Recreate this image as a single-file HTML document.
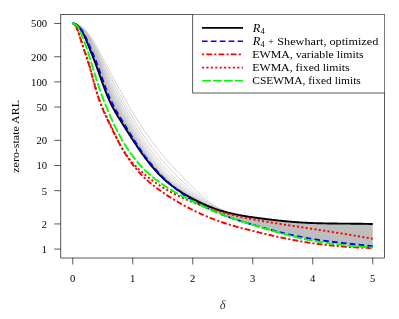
<!DOCTYPE html>
<html><head><meta charset="utf-8"><title>ARL</title>
<style>
html,body{margin:0;padding:0;background:#fff;}
svg{display:block;will-change:transform;}
text{font-family:"Liberation Serif",serif;fill:#000;}
</style></head><body>
<svg width="399" height="319" viewBox="0 0 399 319">
<rect x="0" y="0" width="399" height="319" fill="#fff"/>
<path d="M182.25,192.80 L183.75,193.70 L185.25,194.59 L186.75,195.45 L188.25,196.31 L189.75,197.14 L191.25,197.96 L192.75,198.77 L194.25,199.56 L195.75,200.33 L197.25,201.09 L198.75,201.83 L200.25,202.56 L201.75,203.26 L203.25,203.96 L204.75,204.63 L206.25,205.28 L207.75,205.92 L209.25,206.54 L210.75,207.14 L212.25,207.72 L213.75,208.28 L215.25,208.83 L216.75,209.35 L218.25,209.85 L219.75,210.33 L221.25,210.80 L222.75,211.24 L224.25,211.67 L225.75,212.07 L227.25,212.47 L228.75,212.84 L230.25,213.20 L231.75,213.55 L233.25,213.88 L234.75,214.20 L236.25,214.51 L237.75,214.80 L239.25,215.09 L240.75,215.36 L242.25,215.62 L243.75,215.88 L245.25,216.13 L246.75,216.37 L248.25,216.60 L249.75,216.83 L251.25,217.05 L252.75,217.27 L254.25,217.48 L255.75,217.69 L257.25,217.90 L258.75,218.11 L260.25,218.31 L261.75,218.51 L263.25,218.71 L264.75,218.90 L266.25,219.09 L267.75,219.28 L269.25,219.47 L270.75,219.65 L272.25,219.82 L273.75,220.00 L275.25,220.17 L276.75,220.34 L278.25,220.50 L279.75,220.66 L281.25,220.81 L282.75,220.96 L284.25,221.11 L285.75,221.25 L287.25,221.39 L288.75,221.53 L290.25,221.66 L291.75,221.78 L293.25,221.91 L294.75,222.02 L296.25,222.14 L297.75,222.24 L299.25,222.35 L300.75,222.44 L302.25,222.54 L303.75,222.62 L305.25,222.71 L306.75,222.79 L308.25,222.86 L309.75,222.93 L311.25,222.99 L312.75,223.05 L314.25,223.10 L315.75,223.16 L317.25,223.20 L318.75,223.25 L320.25,223.29 L321.75,223.32 L323.25,223.36 L324.75,223.39 L326.25,223.42 L327.75,223.45 L329.25,223.47 L330.75,223.49 L332.25,223.51 L333.75,223.53 L335.25,223.55 L336.75,223.56 L338.25,223.58 L339.75,223.59 L341.25,223.60 L342.75,223.61 L344.25,223.63 L345.75,223.64 L347.25,223.65 L348.75,223.66 L350.25,223.67 L351.75,223.69 L353.25,223.70 L354.75,223.71 L356.25,223.73 L357.75,223.75 L359.25,223.77 L360.75,223.79 L362.25,223.81 L363.75,223.83 L365.25,223.86 L366.75,223.89 L368.25,223.92 L369.75,223.96 L371.25,223.99 L372.75,224.03 L372.75,248.11 L371.25,247.93 L369.75,247.75 L368.25,247.55 L366.75,247.36 L365.25,247.16 L363.75,246.98 L362.25,246.79 L360.75,246.60 L359.25,246.41 L357.75,246.23 L356.25,246.05 L354.75,245.86 L353.25,245.68 L351.75,245.50 L350.25,245.32 L348.75,245.13 L347.25,244.95 L345.75,244.76 L344.25,244.58 L342.75,244.39 L341.25,244.20 L339.75,244.01 L338.25,243.82 L336.75,243.63 L335.25,243.43 L333.75,243.23 L332.25,243.03 L330.75,242.82 L329.25,242.62 L327.75,242.40 L326.25,242.19 L324.75,241.97 L323.25,241.74 L321.75,241.52 L320.25,241.28 L318.75,241.05 L317.25,240.80 L315.75,240.55 L314.25,240.30 L312.75,240.04 L311.25,239.77 L309.75,239.50 L308.25,239.22 L306.75,238.94 L305.25,238.65 L303.75,238.35 L302.25,238.04 L300.75,237.73 L299.25,237.41 L297.75,237.08 L296.25,236.75 L294.75,236.41 L293.25,236.06 L291.75,235.71 L290.25,235.35 L288.75,234.99 L287.25,234.62 L285.75,234.25 L284.25,233.86 L282.75,233.48 L281.25,233.09 L279.75,232.70 L278.25,232.32 L276.75,231.93 L275.25,231.55 L273.75,231.15 L272.25,230.76 L270.75,230.35 L269.25,229.95 L267.75,229.54 L266.25,229.13 L264.75,228.71 L263.25,228.29 L261.75,227.87 L260.25,227.44 L258.75,227.01 L257.25,226.58 L255.75,226.15 L254.25,225.71 L252.75,225.27 L251.25,224.82 L249.75,224.38 L248.25,223.93 L246.75,223.47 L245.25,223.01 L243.75,222.55 L242.25,222.08 L240.75,221.60 L239.25,221.12 L237.75,220.63 L236.25,220.13 L234.75,219.63 L233.25,219.12 L231.75,218.60 L230.25,218.07 L228.75,217.53 L227.25,216.99 L225.75,216.43 L224.25,215.87 L222.75,215.29 L221.25,214.71 L219.75,214.11 L218.25,213.50 L216.75,212.88 L215.25,212.24 L213.75,211.60 L212.25,210.94 L210.75,210.26 L209.25,209.57 L207.75,208.87 L206.25,208.15 L204.75,207.42 L203.25,206.66 L201.75,205.89 L200.25,205.11 L198.75,204.30 L197.25,203.47 L195.75,202.63 L194.25,201.77 L192.75,200.88 L191.25,199.98 L189.75,199.05 L188.25,198.10 L186.75,197.13 L185.25,196.13 L183.75,195.11 L182.25,194.07Z" fill="#bebebe" stroke="none"/>
<path d="M72.8,23.5L74.2,23.5L75.8,23.8L77.2,24.3L78.8,24.9L80.2,25.7L81.8,26.7L83.2,27.9L84.8,29.3L86.2,31.0L87.8,32.8L89.2,34.8L90.8,37.0L92.2,39.3L93.8,41.7L95.2,44.3L96.8,46.9L98.2,49.6L99.8,52.4L101.2,55.1L102.8,57.9L104.2,60.7L105.8,63.5L107.2,66.3L108.8,69.1L110.2,72.0L111.8,74.8L113.2,77.6L114.8,80.4L116.2,83.2L117.8,86.0L119.2,88.7L120.8,91.5L122.2,94.2L123.8,96.9L125.2,99.6L126.8,102.2L128.2,104.8L129.8,107.4L131.2,110.0L132.8,112.5L134.2,115.0L135.8,117.5L137.2,119.9L138.8,122.3L140.2,124.6L141.8,126.9L143.2,129.2L144.8,131.4L146.2,133.6L147.8,135.8L149.2,137.9L150.8,139.9L152.2,142.0L153.8,144.0L155.2,145.9L156.8,147.8L158.2,149.7L159.8,151.6L161.2,153.4L162.8,155.2L164.2,157.0L165.8,158.8L167.2,160.5L168.8,162.2L170.2,163.9L171.8,165.5L173.2,167.2L174.8,168.8L176.2,170.4L177.8,172.0L179.2,173.6L180.8,175.1L182.2,176.7L183.8,178.2L185.2,179.8L186.8,181.3L188.2,182.8L189.8,184.3L191.2,185.8L192.8,187.3L194.2,188.7L195.8,190.2L197.2,191.6L198.8,193.0L200.2,194.3L201.8,195.7L203.2,197.0L204.8,198.2L206.2,199.5L207.8,200.7L209.2,201.8L210.8,202.9L212.2,204.0L213.8,205.0L215.2,205.9L216.8,206.8L218.2,207.7L219.8,208.5L221.2,209.2L222.8,209.9L224.2,210.5L225.8,211.1" fill="none" stroke="#bebebe" stroke-width="0.7"/>
<path d="M72.8,23.5L74.2,23.5L75.8,23.8L77.2,24.3L78.8,25.0L80.2,25.9L81.8,27.0L83.2,28.3L84.8,29.8L86.2,31.6L87.8,33.6L89.2,35.7L90.8,38.1L92.2,40.6L93.8,43.2L95.2,45.9L96.8,48.7L98.2,51.7L99.8,54.6L101.2,57.7L102.8,60.7L104.2,63.8L105.8,66.8L107.2,69.9L108.8,72.9L110.2,75.9L111.8,78.9L113.2,81.9L114.8,84.8L116.2,87.7L117.8,90.5L119.2,93.3L120.8,96.1L122.2,98.9L123.8,101.6L125.2,104.4L126.8,107.1L128.2,109.8L129.8,112.4L131.2,115.1L132.8,117.7L134.2,120.2L135.8,122.8L137.2,125.3L138.8,127.7L140.2,130.1L141.8,132.5L143.2,134.8L144.8,137.1L146.2,139.3L147.8,141.4L149.2,143.6L150.8,145.7L152.2,147.7L153.8,149.7L155.2,151.7L156.8,153.6L158.2,155.5L159.8,157.3L161.2,159.2L162.8,161.0L164.2,162.7L165.8,164.4L167.2,166.1L168.8,167.7L170.2,169.3L171.8,170.9L173.2,172.5L174.8,174.0L176.2,175.5L177.8,177.0L179.2,178.4L180.8,179.8L182.2,181.2L183.8,182.6L185.2,184.0L186.8,185.4L188.2,186.7L189.8,188.0L191.2,189.4L192.8,190.7L194.2,191.9L195.8,193.2L197.2,194.4L198.8,195.6L200.2,196.8L201.8,198.0L203.2,199.1L204.8,200.2L206.2,201.2L207.8,202.3L209.2,203.3L210.8,204.2L212.2,205.1L213.8,206.0L215.2,206.8L216.8,207.6L218.2,208.4L219.8,209.1L221.2,209.7L222.8,210.3L224.2,210.9L225.8,211.4" fill="none" stroke="#bebebe" stroke-width="0.7"/>
<path d="M72.8,23.5L74.2,23.6L75.8,23.9L77.2,24.4L78.8,25.2L80.2,26.1L81.8,27.2L83.2,28.6L84.8,30.3L86.2,32.2L87.8,34.3L89.2,36.6L90.8,39.1L92.2,41.7L93.8,44.5L95.2,47.4L96.8,50.4L98.2,53.5L99.8,56.6L101.2,59.9L102.8,63.1L104.2,66.4L105.8,69.7L107.2,73.0L108.8,76.2L110.2,79.3L111.8,82.4L113.2,85.5L114.8,88.5L116.2,91.4L117.8,94.3L119.2,97.1L120.8,100.0L122.2,102.8L123.8,105.5L125.2,108.3L126.8,111.0L128.2,113.8L129.8,116.5L131.2,119.1L132.8,121.8L134.2,124.4L135.8,127.0L137.2,129.5L138.8,132.0L140.2,134.4L141.8,136.8L143.2,139.1L144.8,141.4L146.2,143.6L147.8,145.8L149.2,147.9L150.8,150.0L152.2,152.0L153.8,154.0L155.2,156.0L156.8,157.9L158.2,159.8L159.8,161.6L161.2,163.4L162.8,165.2L164.2,166.9L165.8,168.6L167.2,170.2L168.8,171.8L170.2,173.3L171.8,174.9L173.2,176.4L174.8,177.8L176.2,179.2L177.8,180.6L179.2,181.9L180.8,183.2L182.2,184.5L183.8,185.8L185.2,187.0L186.8,188.3L188.2,189.5L189.8,190.7L191.2,191.9L192.8,193.0L194.2,194.2L195.8,195.3L197.2,196.4L198.8,197.5L200.2,198.5L201.8,199.6L203.2,200.6L204.8,201.5L206.2,202.5L207.8,203.4L209.2,204.3L210.8,205.1L212.2,205.9L213.8,206.7L215.2,207.5L216.8,208.2L218.2,208.8L219.8,209.5L221.2,210.1L222.8,210.6L224.2,211.1L225.8,211.6" fill="none" stroke="#bebebe" stroke-width="0.7"/>
<path d="M72.8,23.5L74.2,23.6L75.8,23.9L77.2,24.5L78.8,25.3L80.2,26.3L81.8,27.5L83.2,29.0L84.8,30.7L86.2,32.7L87.8,35.0L89.2,37.4L90.8,40.0L92.2,42.8L93.8,45.6L95.2,48.7L96.8,51.8L98.2,55.0L99.8,58.4L101.2,61.8L102.8,65.3L104.2,68.8L105.8,72.2L107.2,75.6L108.8,79.0L110.2,82.2L111.8,85.4L113.2,88.5L114.8,91.6L116.2,94.5L117.8,97.4L119.2,100.3L120.8,103.1L122.2,105.9L123.8,108.7L125.2,111.5L126.8,114.3L128.2,117.0L129.8,119.7L131.2,122.4L132.8,125.1L134.2,127.7L135.8,130.3L137.2,132.8L138.8,135.3L140.2,137.8L141.8,140.2L143.2,142.5L144.8,144.7L146.2,146.9L147.8,149.1L149.2,151.2L150.8,153.3L152.2,155.3L153.8,157.3L155.2,159.2L156.8,161.1L158.2,163.0L159.8,164.8L161.2,166.6L162.8,168.3L164.2,170.0L165.8,171.6L167.2,173.2L168.8,174.8L170.2,176.3L171.8,177.7L173.2,179.2L174.8,180.6L176.2,181.9L177.8,183.2L179.2,184.4L180.8,185.6L182.2,186.8L183.8,188.0L185.2,189.2L186.8,190.3L188.2,191.4L189.8,192.5L191.2,193.6L192.8,194.7L194.2,195.8L195.8,196.8L197.2,197.8L198.8,198.8L200.2,199.7L201.8,200.7L203.2,201.6L204.8,202.5L206.2,203.3L207.8,204.2L209.2,205.0L210.8,205.7L212.2,206.5L213.8,207.2L215.2,207.9L216.8,208.5L218.2,209.2L219.8,209.7L221.2,210.3L222.8,210.8L224.2,211.3L225.8,211.8" fill="none" stroke="#bebebe" stroke-width="0.7"/>
<path d="M72.8,23.5L74.2,23.6L75.8,23.9L77.2,24.5L78.8,25.4L80.2,26.4L81.8,27.7L83.2,29.2L84.8,31.1L86.2,33.2L87.8,35.6L89.2,38.1L90.8,40.8L92.2,43.7L93.8,46.7L95.2,49.8L96.8,53.1L98.2,56.5L99.8,60.0L101.2,63.5L102.8,67.1L104.2,70.8L105.8,74.4L107.2,77.9L108.8,81.4L110.2,84.7L111.8,88.0L113.2,91.1L114.8,94.2L116.2,97.2L117.8,100.1L119.2,102.9L120.8,105.8L122.2,108.6L123.8,111.4L125.2,114.1L126.8,116.9L128.2,119.6L129.8,122.3L131.2,125.0L132.8,127.7L134.2,130.3L135.8,132.9L137.2,135.4L138.8,138.0L140.2,140.4L141.8,142.8L143.2,145.1L144.8,147.3L146.2,149.5L147.8,151.7L149.2,153.8L150.8,155.8L152.2,157.8L153.8,159.8L155.2,161.7L156.8,163.6L158.2,165.4L159.8,167.2L161.2,168.9L162.8,170.6L164.2,172.3L165.8,173.9L167.2,175.4L168.8,176.9L170.2,178.4L171.8,179.8L173.2,181.2L174.8,182.6L176.2,183.8L177.8,185.0L179.2,186.2L180.8,187.4L182.2,188.5L183.8,189.6L185.2,190.7L186.8,191.8L188.2,192.8L189.8,193.9L191.2,194.9L192.8,195.9L194.2,196.9L195.8,197.8L197.2,198.8L198.8,199.7L200.2,200.6L201.8,201.5L203.2,202.3L204.8,203.1L206.2,203.9L207.8,204.7L209.2,205.4L210.8,206.2L212.2,206.9L213.8,207.5L215.2,208.2L216.8,208.8L218.2,209.4L219.8,209.9L221.2,210.5L222.8,210.9L224.2,211.4L225.8,211.9" fill="none" stroke="#bebebe" stroke-width="0.7"/>
<path d="M72.8,23.5L74.2,23.6L75.8,24.0L77.2,24.6L78.8,25.5L80.2,26.6L81.8,27.9L83.2,29.5L84.8,31.4L86.2,33.6L87.8,36.1L89.2,38.8L90.8,41.6L92.2,44.5L93.8,47.6L95.2,50.8L96.8,54.2L98.2,57.7L99.8,61.3L101.2,65.0L102.8,68.8L104.2,72.5L105.8,76.2L107.2,79.9L108.8,83.4L110.2,86.9L111.8,90.1L113.2,93.3L114.8,96.4L116.2,99.4L117.8,102.3L119.2,105.1L120.8,108.0L122.2,110.7L123.8,113.5L125.2,116.3L126.8,119.0L128.2,121.7L129.8,124.4L131.2,127.1L132.8,129.8L134.2,132.4L135.8,135.0L137.2,137.5L138.8,140.0L140.2,142.4L141.8,144.8L143.2,147.1L144.8,149.3L146.2,151.5L147.8,153.6L149.2,155.7L150.8,157.7L152.2,159.7L153.8,161.6L155.2,163.5L156.8,165.4L158.2,167.2L159.8,168.9L161.2,170.6L162.8,172.3L164.2,173.9L165.8,175.5L167.2,177.0L168.8,178.5L170.2,179.9L171.8,181.4L173.2,182.7L174.8,184.0L176.2,185.2L177.8,186.4L179.2,187.5L180.8,188.6L182.2,189.7L183.8,190.8L185.2,191.8L186.8,192.8L188.2,193.8L189.8,194.8L191.2,195.8L192.8,196.7L194.2,197.7L195.8,198.6L197.2,199.5L198.8,200.3L200.2,201.2L201.8,202.0L203.2,202.8L204.8,203.6L206.2,204.3L207.8,205.1L209.2,205.8L210.8,206.5L212.2,207.1L213.8,207.8L215.2,208.4L216.8,209.0L218.2,209.5L219.8,210.1L221.2,210.6L222.8,211.0L224.2,211.5" fill="none" stroke="#bebebe" stroke-width="0.7"/>
<path d="M72.8,23.5L74.2,23.6L75.8,24.0L77.2,24.7L78.8,25.6L80.2,26.7L81.8,28.1L83.2,29.8L84.8,31.7L86.2,34.0L87.8,36.6L89.2,39.4L90.8,42.3L92.2,45.3L93.8,48.5L95.2,51.8L96.8,55.2L98.2,58.8L99.8,62.5L101.2,66.3L102.8,70.2L104.2,74.0L105.8,77.9L107.2,81.6L108.8,85.2L110.2,88.7L111.8,92.0L113.2,95.2L114.8,98.3L116.2,101.2L117.8,104.1L119.2,107.0L120.8,109.8L122.2,112.5L123.8,115.3L125.2,118.0L126.8,120.7L128.2,123.5L129.8,126.1L131.2,128.8L132.8,131.4L134.2,134.0L135.8,136.6L137.2,139.1L138.8,141.6L140.2,144.0L141.8,146.3L143.2,148.6L144.8,150.8L146.2,153.0L147.8,155.1L149.2,157.2L150.8,159.2L152.2,161.1L153.8,163.1L155.2,164.9L156.8,166.7L158.2,168.5L159.8,170.2L161.2,171.9L162.8,173.6L164.2,175.2L165.8,176.7L167.2,178.2L168.8,179.7L170.2,181.1L171.8,182.5L173.2,183.8L174.8,185.1L176.2,186.2L177.8,187.4L179.2,188.5L180.8,189.5L182.2,190.6L183.8,191.6L185.2,192.6L186.8,193.6L188.2,194.6L189.8,195.5L191.2,196.4L192.8,197.3L194.2,198.2L195.8,199.1L197.2,199.9L198.8,200.8L200.2,201.6L201.8,202.4L203.2,203.2L204.8,203.9L206.2,204.6L207.8,205.3L209.2,206.0L210.8,206.7L212.2,207.3L213.8,207.9L215.2,208.5L216.8,209.1L218.2,209.6L219.8,210.1L221.2,210.6" fill="none" stroke="#bebebe" stroke-width="0.7"/>
<path d="M72.8,23.5L74.2,23.6L75.8,24.0L77.2,24.7L78.8,25.7L80.2,26.8L81.8,28.3L83.2,30.0L84.8,32.0L86.2,34.4L87.8,37.1L89.2,39.9L90.8,42.9L92.2,46.0L93.8,49.2L95.2,52.6L96.8,56.1L98.2,59.8L99.8,63.6L101.2,67.5L102.8,71.4L104.2,75.4L105.8,79.3L107.2,83.1L108.8,86.7L110.2,90.2L111.8,93.5L113.2,96.7L114.8,99.8L116.2,102.8L117.8,105.7L119.2,108.5L120.8,111.2L122.2,114.0L123.8,116.7L125.2,119.4L126.8,122.1L128.2,124.8L129.8,127.5L131.2,130.2L132.8,132.8L134.2,135.4L135.8,137.9L137.2,140.4L138.8,142.9L140.2,145.3L141.8,147.6L143.2,149.8L144.8,152.0L146.2,154.2L147.8,156.3L149.2,158.3L150.8,160.3L152.2,162.2L153.8,164.1L155.2,166.0L156.8,167.8L158.2,169.5L159.8,171.2L161.2,172.9L162.8,174.5L164.2,176.1L165.8,177.6L167.2,179.1L168.8,180.5L170.2,181.9L171.8,183.3L173.2,184.6L174.8,185.9L176.2,187.0L177.8,188.1L179.2,189.2L180.8,190.2L182.2,191.2L183.8,192.2L185.2,193.2L186.8,194.1L188.2,195.1L189.8,196.0L191.2,196.9L192.8,197.8L194.2,198.6L195.8,199.5L197.2,200.3L198.8,201.1L200.2,201.9L201.8,202.6L203.2,203.4L204.8,204.1L206.2,204.8L207.8,205.5L209.2,206.2L210.8,206.8L212.2,207.4L213.8,208.0L215.2,208.6L216.8,209.2L218.2,209.7" fill="none" stroke="#bebebe" stroke-width="0.7"/>
<path d="M72.8,23.5L74.2,23.6L75.8,24.0L77.2,24.7L78.8,25.7L80.2,26.9L81.8,28.4L83.2,30.1L84.8,32.2L86.2,34.6L87.8,37.3L89.2,40.2L90.8,43.2L92.2,46.4L93.8,49.7L95.2,53.1L96.8,56.6L98.2,60.3L99.8,64.2L101.2,68.1L102.8,72.1L104.2,76.1L105.8,80.0L107.2,83.9L108.8,87.6L110.2,91.1L111.8,94.4L113.2,97.6L114.8,100.7L116.2,103.6L117.8,106.5L119.2,109.3L120.8,112.1L122.2,114.8L123.8,117.5L125.2,120.2L126.8,122.9L128.2,125.6L129.8,128.2L131.2,130.9L132.8,133.5L134.2,136.0L135.8,138.6L137.2,141.1L138.8,143.5L140.2,145.9L141.8,148.2L143.2,150.4L144.8,152.6L146.2,154.7L147.8,156.8L149.2,158.9L150.8,160.8L152.2,162.8L153.8,164.6L155.2,166.5L156.8,168.3L158.2,170.0L159.8,171.7L161.2,173.4L162.8,175.0L164.2,176.5L165.8,178.0L167.2,179.5L168.8,180.9L170.2,182.3L171.8,183.7L173.2,185.0L174.8,186.2L176.2,187.3L177.8,188.4L179.2,189.5L180.8,190.5L182.2,191.5L183.8,192.5L185.2,193.4L186.8,194.4L188.2,195.3L189.8,196.2L191.2,197.1L192.8,197.9L194.2,198.8L195.8,199.6L197.2,200.4L198.8,201.2L200.2,202.0L201.8,202.8L203.2,203.5L204.8,204.2L206.2,204.9L207.8,205.6L209.2,206.3L210.8,206.9L212.2,207.5L213.8,208.1L215.2,208.7" fill="none" stroke="#bebebe" stroke-width="0.2"/>
<path d="M72.8,23.5L74.2,23.6L75.8,24.0L77.2,24.8L78.8,25.7L80.2,26.9L81.8,28.4L83.2,30.2L84.8,32.3L86.2,34.7L87.8,37.4L89.2,40.3L90.8,43.4L92.2,46.5L93.8,49.8L95.2,53.2L96.8,56.8L98.2,60.6L99.8,64.4L101.2,68.4L102.8,72.4L104.2,76.4L105.8,80.3L107.2,84.2L108.8,87.9L110.2,91.4L111.8,94.7L113.2,97.9L114.8,101.0L116.2,104.0L117.8,106.8L119.2,109.6L120.8,112.3L122.2,115.1L123.8,117.8L125.2,120.5L126.8,123.2L128.2,125.8L129.8,128.5L131.2,131.1L132.8,133.7L134.2,136.3L135.8,138.8L137.2,141.3L138.8,143.7L140.2,146.1L141.8,148.4L143.2,150.6L144.8,152.8L146.2,155.0L147.8,157.0L149.2,159.1L150.8,161.0L152.2,163.0L153.8,164.8L155.2,166.7L156.8,168.4L158.2,170.2L159.8,171.9L161.2,173.5L162.8,175.1L164.2,176.7L165.8,178.2L167.2,179.6L168.8,181.1L170.2,182.4L171.8,183.8L173.2,185.1L174.8,186.3L176.2,187.5L177.8,188.5L179.2,189.6L180.8,190.6L182.2,191.6L183.8,192.6L185.2,193.5L186.8,194.5L188.2,195.4L189.8,196.3L191.2,197.2L192.8,198.0L194.2,198.9L195.8,199.7L197.2,200.5L198.8,201.3L200.2,202.1L201.8,202.8L203.2,203.5L204.8,204.3L206.2,205.0L207.8,205.6L209.2,206.3L210.8,206.9L212.2,207.5L213.8,208.1L215.2,208.7" fill="none" stroke="#bebebe" stroke-width="0.2"/>
<path d="M72.8,23.5L74.2,23.6L75.8,24.0L77.2,24.8L78.8,25.8L80.2,27.0L81.8,28.4L83.2,30.2L84.8,32.3L86.2,34.8L87.8,37.5L89.2,40.5L90.8,43.5L92.2,46.7L93.8,50.0L95.2,53.4L96.8,57.0L98.2,60.8L99.8,64.7L101.2,68.6L102.8,72.6L104.2,76.7L105.8,80.6L107.2,84.5L108.8,88.2L110.2,91.7L111.8,95.0L113.2,98.2L114.8,101.3L116.2,104.2L117.8,107.1L119.2,109.9L120.8,112.6L122.2,115.3L123.8,118.0L125.2,120.7L126.8,123.4L128.2,126.1L129.8,128.7L131.2,131.4L132.8,134.0L134.2,136.5L135.8,139.0L137.2,141.5L138.8,144.0L140.2,146.3L141.8,148.6L143.2,150.8L144.8,153.0L146.2,155.1L147.8,157.2L149.2,159.2L150.8,161.2L152.2,163.1L153.8,165.0L155.2,166.8L156.8,168.6L158.2,170.3L159.8,172.0L161.2,173.7L162.8,175.3L164.2,176.8L165.8,178.3L167.2,179.8L168.8,181.2L170.2,182.6L171.8,183.9L173.2,185.2L174.8,186.5L176.2,187.6L177.8,188.6L179.2,189.7L180.8,190.7L182.2,191.7L183.8,192.7L185.2,193.6L186.8,194.5L188.2,195.5L189.8,196.3L191.2,197.2L192.8,198.1L194.2,198.9L195.8,199.7L197.2,200.5L198.8,201.3L200.2,202.1L201.8,202.9L203.2,203.6L204.8,204.3L206.2,205.0L207.8,205.7L209.2,206.3L210.8,206.9L212.2,207.5L213.8,208.1" fill="none" stroke="#bebebe" stroke-width="0.2"/>
<path d="M72.8,23.5L74.2,23.6L75.8,24.0L77.2,24.8L78.8,25.8L80.2,27.0L81.8,28.5L83.2,30.3L84.8,32.4L86.2,34.9L87.8,37.6L89.2,40.6L90.8,43.6L92.2,46.8L93.8,50.1L95.2,53.6L96.8,57.2L98.2,61.0L99.8,64.9L101.2,68.9L102.8,72.9L104.2,76.9L105.8,80.9L107.2,84.7L108.8,88.5L110.2,92.0L111.8,95.3L113.2,98.5L114.8,101.6L116.2,104.5L117.8,107.4L119.2,110.2L120.8,112.9L122.2,115.6L123.8,118.3L125.2,121.0L126.8,123.7L128.2,126.3L129.8,129.0L131.2,131.6L132.8,134.2L134.2,136.7L135.8,139.3L137.2,141.7L138.8,144.2L140.2,146.5L141.8,148.8L143.2,151.0L144.8,153.2L146.2,155.3L147.8,157.4L149.2,159.4L150.8,161.4L152.2,163.3L153.8,165.2L155.2,167.0L156.8,168.8L158.2,170.5L159.8,172.2L161.2,173.8L162.8,175.4L164.2,177.0L165.8,178.5L167.2,179.9L168.8,181.3L170.2,182.7L171.8,184.0L173.2,185.3L174.8,186.6L176.2,187.7L177.8,188.7L179.2,189.8L180.8,190.8L182.2,191.8L183.8,192.8L185.2,193.7L186.8,194.6L188.2,195.5L189.8,196.4L191.2,197.3L192.8,198.1L194.2,199.0L195.8,199.8L197.2,200.6L198.8,201.4L200.2,202.1L201.8,202.9L203.2,203.6L204.8,204.3L206.2,205.0L207.8,205.7L209.2,206.3L210.8,206.9L212.2,207.6" fill="none" stroke="#bebebe" stroke-width="0.2"/>
<path d="M72.8,23.5L74.2,23.6L75.8,24.1L77.2,24.8L78.8,25.8L80.2,27.0L81.8,28.5L83.2,30.3L84.8,32.4L86.2,35.0L87.8,37.7L89.2,40.7L90.8,43.8L92.2,47.0L93.8,50.3L95.2,53.7L96.8,57.4L98.2,61.1L99.8,65.1L101.2,69.1L102.8,73.1L104.2,77.2L105.8,81.1L107.2,85.0L108.8,88.7L110.2,92.3L111.8,95.6L113.2,98.8L114.8,101.9L116.2,104.8L117.8,107.7L119.2,110.4L120.8,113.2L122.2,115.8L123.8,118.5L125.2,121.2L126.8,123.9L128.2,126.6L129.8,129.2L131.2,131.8L132.8,134.4L134.2,136.9L135.8,139.5L137.2,141.9L138.8,144.3L140.2,146.7L141.8,149.0L143.2,151.2L144.8,153.4L146.2,155.5L147.8,157.6L149.2,159.6L150.8,161.5L152.2,163.5L153.8,165.3L155.2,167.1L156.8,168.9L158.2,170.6L159.8,172.3L161.2,173.9L162.8,175.5L164.2,177.1L165.8,178.6L167.2,180.0L168.8,181.4L170.2,182.8L171.8,184.1L173.2,185.4L174.8,186.7L176.2,187.8L177.8,188.8L179.2,189.9L180.8,190.9L182.2,191.9L183.8,192.8L185.2,193.8L186.8,194.7L188.2,195.6L189.8,196.5L191.2,197.3L192.8,198.2L194.2,199.0L195.8,199.8L197.2,200.6L198.8,201.4L200.2,202.2L201.8,202.9L203.2,203.6L204.8,204.3L206.2,205.0L207.8,205.7L209.2,206.3L210.8,207.0L212.2,207.6" fill="none" stroke="#bebebe" stroke-width="0.2"/>
<path d="M72.8,23.5L74.2,23.6L75.8,24.1L77.2,24.8L78.8,25.8L80.2,27.0L81.8,28.5L83.2,30.4L84.8,32.5L86.2,35.0L87.8,37.8L89.2,40.8L90.8,43.9L92.2,47.1L93.8,50.4L95.2,53.9L96.8,57.5L98.2,61.3L99.8,65.3L101.2,69.3L102.8,73.3L104.2,77.4L105.8,81.4L107.2,85.3L108.8,89.0L110.2,92.5L111.8,95.9L113.2,99.1L114.8,102.1L116.2,105.1L117.8,107.9L119.2,110.7L120.8,113.4L122.2,116.1L123.8,118.8L125.2,121.4L126.8,124.1L128.2,126.8L129.8,129.4L131.2,132.0L132.8,134.6L134.2,137.1L135.8,139.6L137.2,142.1L138.8,144.5L140.2,146.9L141.8,149.2L143.2,151.4L144.8,153.6L146.2,155.7L147.8,157.7L149.2,159.7L150.8,161.7L152.2,163.6L153.8,165.5L155.2,167.3L156.8,169.0L158.2,170.8L159.8,172.4L161.2,174.1L162.8,175.6L164.2,177.2L165.8,178.7L167.2,180.1L168.8,181.5L170.2,182.9L171.8,184.2L173.2,185.5L174.8,186.8L176.2,187.9L177.8,188.9L179.2,190.0L180.8,191.0L182.2,191.9L183.8,192.9L185.2,193.8L186.8,194.7L188.2,195.6L189.8,196.5L191.2,197.4L192.8,198.2L194.2,199.1L195.8,199.9L197.2,200.7L198.8,201.5L200.2,202.2L201.8,202.9L203.2,203.7L204.8,204.4L206.2,205.1L207.8,205.7L209.2,206.4L210.8,207.0" fill="none" stroke="#bebebe" stroke-width="0.2"/>
<path d="M72.8,23.5L74.2,23.6L75.8,24.1L77.2,24.8L78.8,25.8L80.2,27.1L81.8,28.6L83.2,30.4L84.8,32.6L86.2,35.1L87.8,37.9L89.2,40.9L90.8,44.0L92.2,47.2L93.8,50.6L95.2,54.1L96.8,57.7L98.2,61.5L99.8,65.5L101.2,69.5L102.8,73.6L104.2,77.6L105.8,81.6L107.2,85.5L108.8,89.3L110.2,92.8L111.8,96.1L113.2,99.3L114.8,102.4L116.2,105.3L117.8,108.2L119.2,110.9L120.8,113.6L122.2,116.3L123.8,119.0L125.2,121.7L126.8,124.3L128.2,127.0L129.8,129.6L131.2,132.2L132.8,134.8L134.2,137.3L135.8,139.8L137.2,142.3L138.8,144.7L140.2,147.1L141.8,149.3L143.2,151.5L144.8,153.7L146.2,155.8L147.8,157.9L149.2,159.9L150.8,161.8L152.2,163.7L153.8,165.6L155.2,167.4L156.8,169.2L158.2,170.9L159.8,172.6L161.2,174.2L162.8,175.8L164.2,177.3L165.8,178.8L167.2,180.2L168.8,181.6L170.2,183.0L171.8,184.3L173.2,185.6L174.8,186.8L176.2,187.9L177.8,189.0L179.2,190.0L180.8,191.0L182.2,192.0L183.8,193.0L185.2,193.9L186.8,194.8L188.2,195.7L189.8,196.6L191.2,197.4L192.8,198.3L194.2,199.1L195.8,199.9L197.2,200.7L198.8,201.5L200.2,202.2L201.8,203.0L203.2,203.7L204.8,204.4L206.2,205.1L207.8,205.7L209.2,206.4" fill="none" stroke="#bebebe" stroke-width="0.2"/>
<path d="M72.8,23.5L74.2,23.6L75.8,24.1L77.2,24.8L78.8,25.8L80.2,27.1L81.8,28.6L83.2,30.5L84.8,32.6L86.2,35.2L87.8,38.0L89.2,41.0L90.8,44.1L92.2,47.4L93.8,50.7L95.2,54.2L96.8,57.9L98.2,61.7L99.8,65.7L101.2,69.7L102.8,73.8L104.2,77.9L105.8,81.9L107.2,85.8L108.8,89.5L110.2,93.0L111.8,96.4L113.2,99.6L114.8,102.6L116.2,105.6L117.8,108.4L119.2,111.1L120.8,113.8L122.2,116.5L123.8,119.2L125.2,121.9L126.8,124.5L128.2,127.2L129.8,129.8L131.2,132.4L132.8,135.0L134.2,137.5L135.8,140.0L137.2,142.5L138.8,144.9L140.2,147.2L141.8,149.5L143.2,151.7L144.8,153.9L146.2,156.0L147.8,158.0L149.2,160.0L150.8,162.0L152.2,163.9L153.8,165.7L155.2,167.5L156.8,169.3L158.2,171.0L159.8,172.7L161.2,174.3L162.8,175.9L164.2,177.4L165.8,178.9L167.2,180.3L168.8,181.7L170.2,183.1L171.8,184.4L173.2,185.7L174.8,186.9L176.2,188.0L177.8,189.1L179.2,190.1L180.8,191.1L182.2,192.1L183.8,193.0L185.2,194.0L186.8,194.9L188.2,195.7L189.8,196.6L191.2,197.5L192.8,198.3L194.2,199.1L195.8,200.0L197.2,200.7L198.8,201.5L200.2,202.3L201.8,203.0L203.2,203.7L204.8,204.4L206.2,205.1L207.8,205.7L209.2,206.4" fill="none" stroke="#bebebe" stroke-width="0.2"/>
<path d="M72.8,23.5L74.2,23.6L75.8,24.1L77.2,24.8L78.8,25.9L80.2,27.1L81.8,28.6L83.2,30.5L84.8,32.7L86.2,35.3L87.8,38.1L89.2,41.1L90.8,44.2L92.2,47.5L93.8,50.9L95.2,54.4L96.8,58.0L98.2,61.9L99.8,65.8L101.2,69.9L102.8,74.0L104.2,78.1L105.8,82.1L107.2,86.0L108.8,89.7L110.2,93.3L111.8,96.6L113.2,99.8L114.8,102.9L116.2,105.8L117.8,108.6L119.2,111.4L120.8,114.1L122.2,116.7L123.8,119.4L125.2,122.1L126.8,124.7L128.2,127.4L129.8,130.0L131.2,132.6L132.8,135.1L134.2,137.7L135.8,140.2L137.2,142.6L138.8,145.0L140.2,147.4L141.8,149.6L143.2,151.8L144.8,154.0L146.2,156.1L147.8,158.1L149.2,160.1L150.8,162.1L152.2,164.0L153.8,165.8L155.2,167.6L156.8,169.4L158.2,171.1L159.8,172.8L161.2,174.4L162.8,176.0L164.2,177.5L165.8,179.0L167.2,180.4L168.8,181.8L170.2,183.2L171.8,184.5L173.2,185.8L174.8,187.0L176.2,188.1L177.8,189.1L179.2,190.2L180.8,191.2L182.2,192.1L183.8,193.1L185.2,194.0L186.8,194.9L188.2,195.8L189.8,196.7L191.2,197.5L192.8,198.4L194.2,199.2L195.8,200.0L197.2,200.8L198.8,201.5L200.2,202.3L201.8,203.0L203.2,203.7L204.8,204.4L206.2,205.1L207.8,205.8" fill="none" stroke="#bebebe" stroke-width="0.2"/>
<path d="M72.8,23.5L74.2,23.6L75.8,24.1L77.2,24.8L78.8,25.9L80.2,27.1L81.8,28.7L83.2,30.5L84.8,32.7L86.2,35.3L87.8,38.2L89.2,41.2L90.8,44.4L92.2,47.6L93.8,51.0L95.2,54.5L96.8,58.2L98.2,62.0L99.8,66.0L101.2,70.1L102.8,74.2L104.2,78.3L105.8,82.3L107.2,86.2L108.8,90.0L110.2,93.5L111.8,96.9L113.2,100.1L114.8,103.1L116.2,106.0L117.8,108.8L119.2,111.6L120.8,114.3L122.2,116.9L123.8,119.6L125.2,122.2L126.8,124.9L128.2,127.5L129.8,130.1L131.2,132.7L132.8,135.3L134.2,137.8L135.8,140.3L137.2,142.8L138.8,145.2L140.2,147.5L141.8,149.8L143.2,152.0L144.8,154.1L146.2,156.2L147.8,158.3L149.2,160.3L150.8,162.2L152.2,164.1L153.8,165.9L155.2,167.7L156.8,169.5L158.2,171.2L159.8,172.9L161.2,174.5L162.8,176.0L164.2,177.6L165.8,179.1L167.2,180.5L168.8,181.9L170.2,183.2L171.8,184.6L173.2,185.9L174.8,187.1L176.2,188.2L177.8,189.2L179.2,190.2L180.8,191.2L182.2,192.2L183.8,193.1L185.2,194.1L186.8,195.0L188.2,195.8L189.8,196.7L191.2,197.6L192.8,198.4L194.2,199.2L195.8,200.0L197.2,200.8L198.8,201.6L200.2,202.3L201.8,203.0L203.2,203.8L204.8,204.4L206.2,205.1" fill="none" stroke="#bebebe" stroke-width="0.2"/>
<path d="M72.8,23.5L74.2,23.6L75.8,24.1L77.2,24.9L78.8,25.9L80.2,27.2L81.8,28.7L83.2,30.6L84.8,32.8L86.2,35.4L87.8,38.3L89.2,41.3L90.8,44.5L92.2,47.7L93.8,51.1L95.2,54.6L96.8,58.3L98.2,62.2L99.8,66.2L101.2,70.3L102.8,74.4L104.2,78.5L105.8,82.5L107.2,86.5L108.8,90.2L110.2,93.7L111.8,97.1L113.2,100.3L114.8,103.3L116.2,106.2L117.8,109.0L119.2,111.8L120.8,114.5L122.2,117.1L123.8,119.8L125.2,122.4L126.8,125.1L128.2,127.7L129.8,130.3L131.2,132.9L132.8,135.4L134.2,138.0L135.8,140.4L137.2,142.9L138.8,145.3L140.2,147.6L141.8,149.9L143.2,152.1L144.8,154.2L146.2,156.3L147.8,158.4L149.2,160.4L150.8,162.3L152.2,164.2L153.8,166.0L155.2,167.8L156.8,169.6L158.2,171.3L159.8,172.9L161.2,174.6L162.8,176.1L164.2,177.6L165.8,179.1L167.2,180.6L168.8,182.0L170.2,183.3L171.8,184.6L173.2,185.9L174.8,187.1L176.2,188.2L177.8,189.3L179.2,190.3L180.8,191.3L182.2,192.2L183.8,193.2L185.2,194.1L186.8,195.0L188.2,195.9L189.8,196.7L191.2,197.6L192.8,198.4L194.2,199.2L195.8,200.0L197.2,200.8L198.8,201.6L200.2,202.3L201.8,203.1L203.2,203.8L204.8,204.5" fill="none" stroke="#bebebe" stroke-width="0.2"/>
<path d="M72.8,23.5L74.2,23.6L75.8,24.1L77.2,24.9L78.8,25.9L80.2,27.2L81.8,28.7L83.2,30.6L84.8,32.9L86.2,35.5L87.8,38.3L89.2,41.4L90.8,44.6L92.2,47.8L93.8,51.2L95.2,54.8L96.8,58.5L98.2,62.3L99.8,66.3L101.2,70.4L102.8,74.6L104.2,78.7L105.8,82.7L107.2,86.7L108.8,90.4L110.2,94.0L111.8,97.3L113.2,100.5L114.8,103.5L116.2,106.4L117.8,109.2L119.2,112.0L120.8,114.6L122.2,117.3L123.8,119.9L125.2,122.6L126.8,125.2L128.2,127.8L129.8,130.4L131.2,133.0L132.8,135.6L134.2,138.1L135.8,140.6L137.2,143.0L138.8,145.4L140.2,147.7L141.8,150.0L143.2,152.2L144.8,154.3L146.2,156.4L147.8,158.5L149.2,160.5L150.8,162.4L152.2,164.3L153.8,166.1L155.2,167.9L156.8,169.7L158.2,171.4L159.8,173.0L161.2,174.6L162.8,176.2L164.2,177.7L165.8,179.2L167.2,180.6L168.8,182.0L170.2,183.4L171.8,184.7L173.2,186.0L174.8,187.2L176.2,188.3L177.8,189.3L179.2,190.3L180.8,191.3L182.2,192.3L183.8,193.2L185.2,194.1L186.8,195.0L188.2,195.9L189.8,196.8L191.2,197.6L192.8,198.5L194.2,199.3L195.8,200.1L197.2,200.8L198.8,201.6L200.2,202.4L201.8,203.1L203.2,203.8" fill="none" stroke="#bebebe" stroke-width="0.2"/>
<path d="M72.8,23.5L74.2,23.6L75.8,24.1L77.2,24.9L78.8,25.9L80.2,27.2L81.8,28.8L83.2,30.7L84.8,32.9L86.2,35.5L87.8,38.4L89.2,41.5L90.8,44.7L92.2,48.0L93.8,51.4L95.2,54.9L96.8,58.6L98.2,62.5L99.8,66.5L101.2,70.6L102.8,74.7L104.2,78.9L105.8,82.9L107.2,86.9L108.8,90.6L110.2,94.2L111.8,97.5L113.2,100.7L114.8,103.7L116.2,106.6L117.8,109.4L119.2,112.1L120.8,114.8L122.2,117.5L123.8,120.1L125.2,122.7L126.8,125.4L128.2,128.0L129.8,130.6L131.2,133.2L132.8,135.7L134.2,138.2L135.8,140.7L137.2,143.1L138.8,145.5L140.2,147.9L141.8,150.1L143.2,152.3L144.8,154.4L146.2,156.5L147.8,158.6L149.2,160.6L150.8,162.5L152.2,164.4L153.8,166.2L155.2,168.0L156.8,169.7L158.2,171.4L159.8,173.1L161.2,174.7L162.8,176.3L164.2,177.8L165.8,179.3L167.2,180.7L168.8,182.1L170.2,183.4L171.8,184.8L173.2,186.0L174.8,187.2L176.2,188.3L177.8,189.4L179.2,190.4L180.8,191.4L182.2,192.3L183.8,193.3L185.2,194.2L186.8,195.1L188.2,195.9L189.8,196.8L191.2,197.6L192.8,198.5L194.2,199.3L195.8,200.1L197.2,200.9L198.8,201.6L200.2,202.4L201.8,203.1L203.2,203.8" fill="none" stroke="#bebebe" stroke-width="0.2"/>
<path d="M72.8,23.5L74.2,23.6L75.8,24.1L77.2,24.9L78.8,25.9L80.2,27.2L81.8,28.8L83.2,30.7L84.8,33.0L86.2,35.6L87.8,38.5L89.2,41.6L90.8,44.8L92.2,48.1L93.8,51.5L95.2,55.0L96.8,58.7L98.2,62.6L99.8,66.7L101.2,70.8L102.8,74.9L104.2,79.1L105.8,83.1L107.2,87.1L108.8,90.8L110.2,94.4L111.8,97.7L113.2,100.9L114.8,103.9L116.2,106.8L117.8,109.6L119.2,112.3L120.8,115.0L122.2,117.6L123.8,120.3L125.2,122.9L126.8,125.5L128.2,128.1L129.8,130.7L131.2,133.3L132.8,135.8L134.2,138.4L135.8,140.8L137.2,143.3L138.8,145.6L140.2,148.0L141.8,150.2L143.2,152.4L144.8,154.5L146.2,156.6L147.8,158.7L149.2,160.6L150.8,162.6L152.2,164.5L153.8,166.3L155.2,168.1L156.8,169.8L158.2,171.5L159.8,173.2L161.2,174.8L162.8,176.3L164.2,177.8L165.8,179.3L167.2,180.7L168.8,182.1L170.2,183.5L171.8,184.8L173.2,186.1L174.8,187.3L176.2,188.4L177.8,189.4L179.2,190.4L180.8,191.4L182.2,192.4L183.8,193.3L185.2,194.2L186.8,195.1L188.2,196.0L189.8,196.8L191.2,197.7L192.8,198.5L194.2,199.3L195.8,200.1L197.2,200.9L198.8,201.6L200.2,202.4L201.8,203.1" fill="none" stroke="#bebebe" stroke-width="0.2"/>
<path d="M72.8,23.5L74.2,23.6L75.8,24.1L77.2,24.9L78.8,26.0L80.2,27.3L81.8,28.8L83.2,30.7L84.8,33.0L86.2,35.7L87.8,38.6L89.2,41.7L90.8,44.9L92.2,48.2L93.8,51.6L95.2,55.2L96.8,58.9L98.2,62.8L99.8,66.8L101.2,70.9L102.8,75.1L104.2,79.2L105.8,83.3L107.2,87.2L108.8,91.0L110.2,94.5L111.8,97.9L113.2,101.1L114.8,104.1L116.2,107.0L117.8,109.8L119.2,112.5L120.8,115.1L122.2,117.8L123.8,120.4L125.2,123.0L126.8,125.7L128.2,128.3L129.8,130.9L131.2,133.4L132.8,136.0L134.2,138.5L135.8,140.9L137.2,143.4L138.8,145.7L140.2,148.1L141.8,150.3L143.2,152.5L144.8,154.6L146.2,156.7L147.8,158.8L149.2,160.7L150.8,162.7L152.2,164.5L153.8,166.4L155.2,168.2L156.8,169.9L158.2,171.6L159.8,173.2L161.2,174.8L162.8,176.4L164.2,177.9L165.8,179.4L167.2,180.8L168.8,182.2L170.2,183.5L171.8,184.9L173.2,186.1L174.8,187.3L176.2,188.4L177.8,189.4L179.2,190.5L180.8,191.4L182.2,192.4L183.8,193.3L185.2,194.2L186.8,195.1L188.2,196.0L189.8,196.9L191.2,197.7L192.8,198.5L194.2,199.3L195.8,200.1L197.2,200.9L198.8,201.7L200.2,202.4" fill="none" stroke="#bebebe" stroke-width="0.2"/>
<path d="M72.8,23.5L74.2,23.6L75.8,24.1L77.2,24.9L78.8,26.0L80.2,27.3L81.8,28.9L83.2,30.8L84.8,33.1L86.2,35.7L87.8,38.6L89.2,41.8L90.8,45.0L92.2,48.3L93.8,51.7L95.2,55.3L96.8,59.0L98.2,62.9L99.8,67.0L101.2,71.1L102.8,75.3L104.2,79.4L105.8,83.5L107.2,87.4L108.8,91.2L110.2,94.7L111.8,98.1L113.2,101.2L114.8,104.3L116.2,107.2L117.8,109.9L119.2,112.6L120.8,115.3L122.2,117.9L123.8,120.6L125.2,123.2L126.8,125.8L128.2,128.4L129.8,131.0L131.2,133.5L132.8,136.1L134.2,138.6L135.8,141.0L137.2,143.5L138.8,145.8L140.2,148.2L141.8,150.4L143.2,152.6L144.8,154.7L146.2,156.8L147.8,158.8L149.2,160.8L150.8,162.7L152.2,164.6L153.8,166.4L155.2,168.2L156.8,170.0L158.2,171.6L159.8,173.3L161.2,174.9L162.8,176.4L164.2,178.0L165.8,179.4L167.2,180.8L168.8,182.2L170.2,183.6L171.8,184.9L173.2,186.2L174.8,187.4L176.2,188.4L177.8,189.5L179.2,190.5L180.8,191.5L182.2,192.4L183.8,193.4L185.2,194.3L186.8,195.2L188.2,196.0L189.8,196.9L191.2,197.7L192.8,198.5L194.2,199.4L195.8,200.1L197.2,200.9L198.8,201.7" fill="none" stroke="#bebebe" stroke-width="0.2"/>
<path d="M72.8,23.5L74.2,23.6L75.8,24.1L77.2,24.9L78.8,26.0L80.2,27.3L81.8,28.9L83.2,30.8L84.8,33.1L86.2,35.8L87.8,38.7L89.2,41.8L90.8,45.1L92.2,48.4L93.8,51.8L95.2,55.4L96.8,59.1L98.2,63.0L99.8,67.1L101.2,71.2L102.8,75.4L104.2,79.6L105.8,83.7L107.2,87.6L108.8,91.4L110.2,94.9L111.8,98.2L113.2,101.4L114.8,104.4L116.2,107.3L117.8,110.1L119.2,112.8L120.8,115.4L122.2,118.1L123.8,120.7L125.2,123.3L126.8,125.9L128.2,128.5L129.8,131.1L131.2,133.7L132.8,136.2L134.2,138.7L135.8,141.1L137.2,143.6L138.8,145.9L140.2,148.2L141.8,150.5L143.2,152.7L144.8,154.8L146.2,156.9L147.8,158.9L149.2,160.9L150.8,162.8L152.2,164.7L153.8,166.5L155.2,168.3L156.8,170.0L158.2,171.7L159.8,173.3L161.2,174.9L162.8,176.5L164.2,178.0L165.8,179.5L167.2,180.9L168.8,182.3L170.2,183.6L171.8,184.9L173.2,186.2L174.8,187.4L176.2,188.5L177.8,189.5L179.2,190.5L180.8,191.5L182.2,192.5L183.8,193.4L185.2,194.3L186.8,195.2L188.2,196.0L189.8,196.9L191.2,197.7L192.8,198.6L194.2,199.4L195.8,200.2L197.2,200.9" fill="none" stroke="#bebebe" stroke-width="0.2"/>
<path d="M72.8,23.5L74.2,23.6L75.8,24.1L77.2,24.9L78.8,26.0L80.2,27.3L81.8,28.9L83.2,30.9L84.8,33.2L86.2,35.8L87.8,38.8L89.2,41.9L90.8,45.1L92.2,48.5L93.8,51.9L95.2,55.5L96.8,59.2L98.2,63.2L99.8,67.2L101.2,71.4L102.8,75.6L104.2,79.7L105.8,83.8L107.2,87.8L108.8,91.5L110.2,95.1L111.8,98.4L113.2,101.6L114.8,104.6L116.2,107.5L117.8,110.2L119.2,112.9L120.8,115.6L122.2,118.2L123.8,120.8L125.2,123.4L126.8,126.0L128.2,128.6L129.8,131.2L131.2,133.8L132.8,136.3L134.2,138.8L135.8,141.2L137.2,143.7L138.8,146.0L140.2,148.3L141.8,150.6L143.2,152.8L144.8,154.9L146.2,157.0L147.8,159.0L149.2,161.0L150.8,162.9L152.2,164.7L153.8,166.6L155.2,168.3L156.8,170.1L158.2,171.8L159.8,173.4L161.2,175.0L162.8,176.5L164.2,178.1L165.8,179.5L167.2,180.9L168.8,182.3L170.2,183.7L171.8,185.0L173.2,186.3L174.8,187.4L176.2,188.5L177.8,189.5L179.2,190.6L180.8,191.5L182.2,192.5L183.8,193.4L185.2,194.3L186.8,195.2L188.2,196.1L189.8,196.9L191.2,197.8L192.8,198.6L194.2,199.4L195.8,200.2" fill="none" stroke="#bebebe" stroke-width="0.2"/>
<path d="M72.8,23.5L74.2,23.6L75.8,24.1L77.2,24.9L78.8,26.0L80.2,27.3L81.8,28.9L83.2,30.9L84.8,33.2L86.2,35.9L87.8,38.9L89.2,42.0L90.8,45.2L92.2,48.6L93.8,52.0L95.2,55.6L96.8,59.4L98.2,63.3L99.8,67.4L101.2,71.5L102.8,75.7L104.2,79.9L105.8,84.0L107.2,87.9L108.8,91.7L110.2,95.2L111.8,98.6L113.2,101.7L114.8,104.7L116.2,107.6L117.8,110.4L119.2,113.1L120.8,115.7L122.2,118.3L123.8,120.9L125.2,123.5L126.8,126.1L128.2,128.7L129.8,131.3L131.2,133.9L132.8,136.4L134.2,138.9L135.8,141.3L137.2,143.7L138.8,146.1L140.2,148.4L141.8,150.6L143.2,152.8L144.8,155.0L146.2,157.0L147.8,159.0L149.2,161.0L150.8,162.9L152.2,164.8L153.8,166.6L155.2,168.4L156.8,170.1L158.2,171.8L159.8,173.4L161.2,175.0L162.8,176.6L164.2,178.1L165.8,179.6L167.2,181.0L168.8,182.4L170.2,183.7L171.8,185.0L173.2,186.3L174.8,187.5L176.2,188.5L177.8,189.6L179.2,190.6L180.8,191.6L182.2,192.5L183.8,193.4L185.2,194.3L186.8,195.2L188.2,196.1L189.8,196.9L191.2,197.8L192.8,198.6L194.2,199.4" fill="none" stroke="#bebebe" stroke-width="0.2"/>
<path d="M72.8,23.5L74.2,23.6L75.8,24.1L77.2,24.9L78.8,26.0L80.2,27.4L81.8,29.0L83.2,30.9L84.8,33.2L86.2,35.9L87.8,38.9L89.2,42.1L90.8,45.3L92.2,48.7L93.8,52.1L95.2,55.7L96.8,59.5L98.2,63.4L99.8,67.5L101.2,71.7L102.8,75.8L104.2,80.0L105.8,84.1L107.2,88.1L108.8,91.9L110.2,95.4L111.8,98.7L113.2,101.9L114.8,104.9L116.2,107.8L117.8,110.5L119.2,113.2L120.8,115.8L122.2,118.4L123.8,121.1L125.2,123.7L126.8,126.3L128.2,128.8L129.8,131.4L131.2,134.0L132.8,136.5L134.2,139.0L135.8,141.4L137.2,143.8L138.8,146.2L140.2,148.5L141.8,150.7L143.2,152.9L144.8,155.0L146.2,157.1L147.8,159.1L149.2,161.1L150.8,163.0L152.2,164.9L153.8,166.7L155.2,168.4L156.8,170.2L158.2,171.9L159.8,173.5L161.2,175.1L162.8,176.6L164.2,178.1L165.8,179.6L167.2,181.0L168.8,182.4L170.2,183.7L171.8,185.0L173.2,186.3L174.8,187.5L176.2,188.6L177.8,189.6L179.2,190.6L180.8,191.6L182.2,192.5L183.8,193.5L185.2,194.4L186.8,195.2L188.2,196.1L189.8,197.0L191.2,197.8L192.8,198.6" fill="none" stroke="#bebebe" stroke-width="0.2"/>
<path d="M72.8,23.5L74.2,23.6L75.8,24.1L77.2,24.9L78.8,26.0L80.2,27.4L81.8,29.0L83.2,31.0L84.8,33.3L86.2,36.0L87.8,39.0L89.2,42.2L90.8,45.4L92.2,48.8L93.8,52.2L95.2,55.8L96.8,59.6L98.2,63.5L99.8,67.6L101.2,71.8L102.8,76.0L104.2,80.2L105.8,84.3L107.2,88.2L108.8,92.0L110.2,95.5L111.8,98.9L113.2,102.0L114.8,105.0L116.2,107.9L117.8,110.7L119.2,113.3L120.8,116.0L122.2,118.6L123.8,121.2L125.2,123.8L126.8,126.4L128.2,128.9L129.8,131.5L131.2,134.0L132.8,136.6L134.2,139.0L135.8,141.5L137.2,143.9L138.8,146.3L140.2,148.6L141.8,150.8L143.2,153.0L144.8,155.1L146.2,157.1L147.8,159.2L149.2,161.1L150.8,163.0L152.2,164.9L153.8,166.7L155.2,168.5L156.8,170.2L158.2,171.9L159.8,173.5L161.2,175.1L162.8,176.7L164.2,178.2L165.8,179.6L167.2,181.0L168.8,182.4L170.2,183.8L171.8,185.1L173.2,186.3L174.8,187.5L176.2,188.6L177.8,189.6L179.2,190.6L180.8,191.6L182.2,192.6L183.8,193.5L185.2,194.4L186.8,195.3L188.2,196.1L189.8,197.0L191.2,197.8" fill="none" stroke="#bebebe" stroke-width="0.2"/>
<path d="M72.8,23.5L74.2,23.6L75.8,24.1L77.2,24.9L78.8,26.1L80.2,27.4L81.8,29.0L83.2,31.0L84.8,33.3L86.2,36.1L87.8,39.1L89.2,42.2L90.8,45.5L92.2,48.8L93.8,52.3L95.2,55.9L96.8,59.7L98.2,63.6L99.8,67.7L101.2,71.9L102.8,76.1L104.2,80.3L105.8,84.4L107.2,88.4L108.8,92.1L110.2,95.7L111.8,99.0L113.2,102.2L114.8,105.2L116.2,108.0L117.8,110.8L119.2,113.5L120.8,116.1L122.2,118.7L123.8,121.3L125.2,123.9L126.8,126.5L128.2,129.0L129.8,131.6L131.2,134.1L132.8,136.6L134.2,139.1L135.8,141.6L137.2,144.0L138.8,146.3L140.2,148.6L141.8,150.8L143.2,153.0L144.8,155.1L146.2,157.2L147.8,159.2L149.2,161.2L150.8,163.1L152.2,165.0L153.8,166.8L155.2,168.5L156.8,170.3L158.2,171.9L159.8,173.6L161.2,175.2L162.8,176.7L164.2,178.2L165.8,179.7L167.2,181.1L168.8,182.5L170.2,183.8L171.8,185.1L173.2,186.4L174.8,187.6L176.2,188.6L177.8,189.7L179.2,190.7L180.8,191.6L182.2,192.6L183.8,193.5L185.2,194.4L186.8,195.3L188.2,196.1L189.8,197.0" fill="none" stroke="#bebebe" stroke-width="0.2"/>
<path d="M72.8,23.5L74.2,23.6L75.8,24.1L77.2,25.0L78.8,26.1L80.2,27.4L81.8,29.1L83.2,31.0L84.8,33.4L86.2,36.1L87.8,39.1L89.2,42.3L90.8,45.6L92.2,48.9L93.8,52.4L95.2,56.0L96.8,59.8L98.2,63.7L99.8,67.8L101.2,72.0L102.8,76.2L104.2,80.4L105.8,84.6L107.2,88.5L108.8,92.3L110.2,95.8L111.8,99.2L113.2,102.3L114.8,105.3L116.2,108.1L117.8,110.9L119.2,113.6L120.8,116.2L122.2,118.8L123.8,121.4L125.2,124.0L126.8,126.5L128.2,129.1L129.8,131.7L131.2,134.2L132.8,136.7L134.2,139.2L135.8,141.6L137.2,144.0L138.8,146.4L140.2,148.7L141.8,150.9L143.2,153.1L144.8,155.2L146.2,157.3L147.8,159.3L149.2,161.2L150.8,163.1L152.2,165.0L153.8,166.8L155.2,168.6L156.8,170.3L158.2,172.0L159.8,173.6L161.2,175.2L162.8,176.7L164.2,178.2L165.8,179.7L167.2,181.1L168.8,182.5L170.2,183.8L171.8,185.1L173.2,186.4L174.8,187.6L176.2,188.6L177.8,189.7L179.2,190.7L180.8,191.6L182.2,192.6L183.8,193.5L185.2,194.4L186.8,195.3L188.2,196.1" fill="none" stroke="#bebebe" stroke-width="0.2"/>
<path d="M72.8,23.5L74.2,23.6L75.8,24.1L77.2,25.0L78.8,26.1L80.2,27.4L81.8,29.1L83.2,31.1L84.8,33.4L86.2,36.2L87.8,39.2L89.2,42.4L90.8,45.6L92.2,49.0L93.8,52.5L95.2,56.1L96.8,59.9L98.2,63.9L99.8,68.0L101.2,72.2L102.8,76.4L104.2,80.6L105.8,84.7L107.2,88.7L108.8,92.4L110.2,96.0L111.8,99.3L113.2,102.4L114.8,105.4L116.2,108.3L117.8,111.0L119.2,113.7L120.8,116.3L122.2,118.9L123.8,121.5L125.2,124.1L126.8,126.6L128.2,129.2L129.8,131.8L131.2,134.3L132.8,136.8L134.2,139.3L135.8,141.7L137.2,144.1L138.8,146.4L140.2,148.7L141.8,151.0L143.2,153.1L144.8,155.2L146.2,157.3L147.8,159.3L149.2,161.3L150.8,163.2L152.2,165.0L153.8,166.9L155.2,168.6L156.8,170.3L158.2,172.0L159.8,173.6L161.2,175.2L162.8,176.8L164.2,178.3L165.8,179.7L167.2,181.1L168.8,182.5L170.2,183.8L171.8,185.1L173.2,186.4L174.8,187.6L176.2,188.7L177.8,189.7L179.2,190.7L180.8,191.7L182.2,192.6L183.8,193.5L185.2,194.4L186.8,195.3" fill="none" stroke="#bebebe" stroke-width="0.2"/>
<path d="M72.8,23.5L74.2,23.6L75.8,24.1L77.2,25.0L78.8,26.1L80.2,27.5L81.8,29.1L83.2,31.1L84.8,33.5L86.2,36.2L87.8,39.2L89.2,42.4L90.8,45.7L92.2,49.1L93.8,52.6L95.2,56.2L96.8,60.0L98.2,64.0L99.8,68.1L101.2,72.3L102.8,76.5L104.2,80.7L105.8,84.8L107.2,88.8L108.8,92.6L110.2,96.1L111.8,99.4L113.2,102.6L114.8,105.5L116.2,108.4L117.8,111.1L119.2,113.8L120.8,116.4L122.2,119.0L123.8,121.6L125.2,124.1L126.8,126.7L128.2,129.3L129.8,131.8L131.2,134.4L132.8,136.9L134.2,139.3L135.8,141.8L137.2,144.2L138.8,146.5L140.2,148.8L141.8,151.0L143.2,153.2L144.8,155.3L146.2,157.4L147.8,159.4L149.2,161.3L150.8,163.2L152.2,165.1L153.8,166.9L155.2,168.7L156.8,170.4L158.2,172.0L159.8,173.7L161.2,175.3L162.8,176.8L164.2,178.3L165.8,179.7L167.2,181.2L168.8,182.5L170.2,183.9L171.8,185.2L173.2,186.4L174.8,187.6L176.2,188.7L177.8,189.7L179.2,190.7L180.8,191.7L182.2,192.6L183.8,193.5L185.2,194.4" fill="none" stroke="#bebebe" stroke-width="0.2"/>
<path d="M72.8,23.5L74.2,23.6L75.8,24.1L77.2,25.0L78.8,26.1L80.2,27.5L81.8,29.1L83.2,31.1L84.8,33.5L86.2,36.3L87.8,39.3L89.2,42.5L90.8,45.8L92.2,49.2L93.8,52.7L95.2,56.3L96.8,60.1L98.2,64.1L99.8,68.2L101.2,72.4L102.8,76.6L104.2,80.8L105.8,84.9L107.2,88.9L108.8,92.7L110.2,96.2L111.8,99.5L113.2,102.7L114.8,105.7L116.2,108.5L117.8,111.2L119.2,113.9L120.8,116.5L122.2,119.1L123.8,121.6L125.2,124.2L126.8,126.8L128.2,129.4L129.8,131.9L131.2,134.4L132.8,136.9L134.2,139.4L135.8,141.8L137.2,144.2L138.8,146.6L140.2,148.8L141.8,151.1L143.2,153.2L144.8,155.3L146.2,157.4L147.8,159.4L149.2,161.4L150.8,163.3L152.2,165.1L153.8,166.9L155.2,168.7L156.8,170.4L158.2,172.1L159.8,173.7L161.2,175.3L162.8,176.8L164.2,178.3L165.8,179.8L167.2,181.2L168.8,182.6L170.2,183.9L171.8,185.2L173.2,186.5L174.8,187.6L176.2,188.7L177.8,189.7L179.2,190.7L180.8,191.7L182.2,192.6L183.8,193.6" fill="none" stroke="#bebebe" stroke-width="0.2"/>
<path d="M72.8,23.5L74.2,23.6L75.8,24.1L77.2,25.0L78.8,26.1L80.2,27.5L81.8,29.2L83.2,31.2L84.8,33.5L86.2,36.3L87.8,39.4L89.2,42.6L90.8,45.9L92.2,49.3L93.8,52.8L95.2,56.4L96.8,60.2L98.2,64.2L99.8,68.3L101.2,72.5L102.8,76.7L104.2,80.9L105.8,85.1L107.2,89.0L108.8,92.8L110.2,96.3L111.8,99.7L113.2,102.8L114.8,105.8L116.2,108.6L117.8,111.3L119.2,114.0L120.8,116.6L122.2,119.1L123.8,121.7L125.2,124.3L126.8,126.9L128.2,129.4L129.8,132.0L131.2,134.5L132.8,137.0L134.2,139.5L135.8,141.9L137.2,144.3L138.8,146.6L140.2,148.9L141.8,151.1L143.2,153.3L144.8,155.4L146.2,157.4L147.8,159.4L149.2,161.4L150.8,163.3L152.2,165.2L153.8,167.0L155.2,168.7L156.8,170.4L158.2,172.1L159.8,173.7L161.2,175.3L162.8,176.8L164.2,178.3L165.8,179.8L167.2,181.2L168.8,182.6L170.2,183.9L171.8,185.2L173.2,186.5L174.8,187.7L176.2,188.7L177.8,189.7L179.2,190.7L180.8,191.7" fill="none" stroke="#bebebe" stroke-width="0.2"/>
<path d="M72.8,23.5L74.2,23.6L75.8,24.2L77.2,25.0L78.8,26.1L80.2,27.5L81.8,29.2L83.2,31.2L84.8,33.6L86.2,36.4L87.8,39.4L89.2,42.6L90.8,45.9L92.2,49.3L93.8,52.8L95.2,56.5L96.8,60.3L98.2,64.3L99.8,68.4L101.2,72.6L102.8,76.8L104.2,81.0L105.8,85.2L107.2,89.1L108.8,92.9L110.2,96.4L111.8,99.8L113.2,102.9L114.8,105.9L116.2,108.7L117.8,111.4L119.2,114.1L120.8,116.7L122.2,119.2L123.8,121.8L125.2,124.4L126.8,126.9L128.2,129.5L129.8,132.0L131.2,134.6L132.8,137.0L134.2,139.5L135.8,141.9L137.2,144.3L138.8,146.7L140.2,148.9L141.8,151.1L143.2,153.3L144.8,155.4L146.2,157.5L147.8,159.5L149.2,161.4L150.8,163.3L152.2,165.2L153.8,167.0L155.2,168.7L156.8,170.5L158.2,172.1L159.8,173.7L161.2,175.3L162.8,176.9L164.2,178.4L165.8,179.8L167.2,181.2L168.8,182.6L170.2,183.9L171.8,185.2L173.2,186.5L174.8,187.7L176.2,188.7L177.8,189.8L179.2,190.8" fill="none" stroke="#bebebe" stroke-width="0.2"/>
<path d="M72.8,23.5L74.2,23.6L75.8,24.2L77.2,25.0L78.8,26.1L80.2,27.5L81.8,29.2L83.2,31.2L84.8,33.6L86.2,36.4L87.8,39.5L89.2,42.7L90.8,46.0L92.2,49.4L93.8,52.9L95.2,56.6L96.8,60.4L98.2,64.3L99.8,68.5L101.2,72.7L102.8,76.9L104.2,81.1L105.8,85.3L107.2,89.3L108.8,93.0L110.2,96.6L111.8,99.9L113.2,103.0L114.8,106.0L116.2,108.8L117.8,111.5L119.2,114.2L120.8,116.7L122.2,119.3L123.8,121.9L125.2,124.4L126.8,127.0L128.2,129.6L129.8,132.1L131.2,134.6L132.8,137.1L134.2,139.6L135.8,142.0L137.2,144.4L138.8,146.7L140.2,149.0L141.8,151.2L143.2,153.3L144.8,155.5L146.2,157.5L147.8,159.5L149.2,161.5L150.8,163.4L152.2,165.2L153.8,167.0L155.2,168.8L156.8,170.5L158.2,172.1L159.8,173.8L161.2,175.3L162.8,176.9L164.2,178.4L165.8,179.8L167.2,181.2L168.8,182.6L170.2,183.9L171.8,185.2L173.2,186.5L174.8,187.7L176.2,188.7L177.8,189.8" fill="none" stroke="#bebebe" stroke-width="0.2"/>
<path d="M72.8,23.5L74.2,23.6L75.8,24.2L77.2,25.0L78.8,26.2L80.2,27.5L81.8,29.2L83.2,31.2L84.8,33.7L86.2,36.5L87.8,39.5L89.2,42.8L90.8,46.1L92.2,49.5L93.8,53.0L95.2,56.6L96.8,60.4L98.2,64.4L99.8,68.6L101.2,72.8L102.8,77.0L104.2,81.3L105.8,85.4L107.2,89.4L108.8,93.1L110.2,96.7L111.8,100.0L113.2,103.1L114.8,106.1L116.2,108.9L117.8,111.6L119.2,114.2L120.8,116.8L122.2,119.4L123.8,121.9L125.2,124.5L126.8,127.1L128.2,129.6L129.8,132.2L131.2,134.7L132.8,137.2L134.2,139.6L135.8,142.0L137.2,144.4L138.8,146.7L140.2,149.0L141.8,151.2L143.2,153.4L144.8,155.5L146.2,157.5L147.8,159.5L149.2,161.5L150.8,163.4L152.2,165.2L153.8,167.0L155.2,168.8L156.8,170.5L158.2,172.2L159.8,173.8L161.2,175.4L162.8,176.9L164.2,178.4L165.8,179.8L167.2,181.3L168.8,182.6L170.2,184.0L171.8,185.3L173.2,186.5L174.8,187.7L176.2,188.8" fill="none" stroke="#bebebe" stroke-width="0.2"/>
<path d="M72.8,23.5L74.2,23.6L75.8,24.2L77.2,25.0L78.8,26.2L80.2,27.6L81.8,29.2L83.2,31.3L84.8,33.7L86.2,36.5L87.8,39.6L89.2,42.8L90.8,46.1L92.2,49.6L93.8,53.1L95.2,56.7L96.8,60.5L98.2,64.5L99.8,68.7L101.2,72.9L102.8,77.1L104.2,81.4L105.8,85.5L107.2,89.5L108.8,93.2L110.2,96.8L111.8,100.1L113.2,103.2L114.8,106.2L116.2,109.0L117.8,111.7L119.2,114.3L120.8,116.9L122.2,119.5L123.8,122.0L125.2,124.6L126.8,127.1L128.2,129.7L129.8,132.2L131.2,134.7L132.8,137.2L134.2,139.7L135.8,142.1L137.2,144.4L138.8,146.8L140.2,149.1L141.8,151.3L143.2,153.4L144.8,155.5L146.2,157.6L147.8,159.6L149.2,161.5L150.8,163.4L152.2,165.3L153.8,167.1L155.2,168.8L156.8,170.5L158.2,172.2L159.8,173.8L161.2,175.4L162.8,176.9L164.2,178.4L165.8,179.9L167.2,181.3L168.8,182.6L170.2,184.0L171.8,185.3L173.2,186.5" fill="none" stroke="#bebebe" stroke-width="0.2"/>
<path d="M72.8,23.5L74.2,23.6L75.8,24.2L77.2,25.0L78.8,26.2L80.2,27.6L81.8,29.3L83.2,31.3L84.8,33.7L86.2,36.5L87.8,39.6L89.2,42.9L90.8,46.2L92.2,49.6L93.8,53.1L95.2,56.8L96.8,60.6L98.2,64.6L99.8,68.7L101.2,73.0L102.8,77.2L104.2,81.5L105.8,85.6L107.2,89.6L108.8,93.3L110.2,96.9L111.8,100.2L113.2,103.3L114.8,106.2L116.2,109.1L117.8,111.8L119.2,114.4L120.8,117.0L122.2,119.5L123.8,122.1L125.2,124.6L126.8,127.2L128.2,129.7L129.8,132.3L131.2,134.8L132.8,137.2L134.2,139.7L135.8,142.1L137.2,144.5L138.8,146.8L140.2,149.1L141.8,151.3L143.2,153.5L144.8,155.6L146.2,157.6L147.8,159.6L149.2,161.5L150.8,163.4L152.2,165.3L153.8,167.1L155.2,168.8L156.8,170.6L158.2,172.2L159.8,173.8L161.2,175.4L162.8,176.9L164.2,178.4L165.8,179.9L167.2,181.3L168.8,182.7L170.2,184.0L171.8,185.3" fill="none" stroke="#bebebe" stroke-width="0.2"/>
<path d="M72.8,23.5L74.2,23.6L75.8,24.2L77.2,25.0L78.8,26.2L80.2,27.6L81.8,29.3L83.2,31.3L84.8,33.8L86.2,36.6L87.8,39.7L89.2,42.9L90.8,46.3L92.2,49.7L93.8,53.2L95.2,56.9L96.8,60.7L98.2,64.7L99.8,68.8L101.2,73.1L102.8,77.3L104.2,81.5L105.8,85.7L107.2,89.7L108.8,93.4L110.2,97.0L111.8,100.3L113.2,103.4L114.8,106.3L116.2,109.1L117.8,111.8L119.2,114.5L120.8,117.0L122.2,119.6L123.8,122.1L125.2,124.7L126.8,127.2L128.2,129.8L129.8,132.3L131.2,134.8L132.8,137.3L134.2,139.7L135.8,142.2L137.2,144.5L138.8,146.8L140.2,149.1L141.8,151.3L143.2,153.5L144.8,155.6L146.2,157.6L147.8,159.6L149.2,161.6L150.8,163.5L152.2,165.3L153.8,167.1L155.2,168.9L156.8,170.6L158.2,172.2L159.8,173.8L161.2,175.4L162.8,177.0L164.2,178.4L165.8,179.9L167.2,181.3L168.8,182.7" fill="none" stroke="#bebebe" stroke-width="0.2"/>
<path d="M72.8,23.5L74.2,23.7L75.8,24.2L77.2,25.0L78.8,26.2L80.2,27.6L81.8,29.3L83.2,31.4L84.8,33.8L86.2,36.6L87.8,39.7L89.2,43.0L90.8,46.3L92.2,49.8L93.8,53.3L95.2,56.9L96.8,60.8L98.2,64.8L99.8,68.9L101.2,73.1L102.8,77.4L104.2,81.6L105.8,85.8L107.2,89.8L108.8,93.5L110.2,97.0L111.8,100.3L113.2,103.5L114.8,106.4L116.2,109.2L117.8,111.9L119.2,114.5L120.8,117.1L122.2,119.6L123.8,122.2L125.2,124.7L126.8,127.3L128.2,129.8L129.8,132.4L131.2,134.9L132.8,137.3L134.2,139.8L135.8,142.2L137.2,144.6L138.8,146.9L140.2,149.2L141.8,151.4L143.2,153.5L144.8,155.6L146.2,157.7L147.8,159.6L149.2,161.6L150.8,163.5L152.2,165.3L153.8,167.1L155.2,168.9L156.8,170.6L158.2,172.2L159.8,173.9L161.2,175.4L162.8,177.0L164.2,178.5L165.8,179.9L167.2,181.3" fill="none" stroke="#bebebe" stroke-width="0.2"/>
<path d="M72.8,23.5L74.2,23.7L75.8,24.2L77.2,25.0L78.8,26.2L80.2,27.6L81.8,29.3L83.2,31.3L84.8,33.8L86.2,36.6L87.8,39.7L89.2,43.0L90.8,46.3L92.2,49.7L93.8,53.2L95.2,56.9L96.8,60.7L98.2,64.7L99.8,68.9L101.2,73.1L102.8,77.4L104.2,81.6L105.8,85.7L107.2,89.7L108.8,93.5L110.2,97.0L111.8,100.3L113.2,103.4L114.8,106.4L116.2,109.2L117.8,111.9L119.2,114.5L120.8,117.1L122.2,119.6L123.8,122.2L125.2,124.7L126.8,127.3L128.2,129.8L129.8,132.3L131.2,134.8L132.8,137.3L134.2,139.8L135.8,142.2L137.2,144.5L138.8,146.9L140.2,149.1L141.8,151.3L143.2,153.5L144.8,155.6L146.2,157.6L147.8,159.6L149.2,161.6L150.8,163.5L152.2,165.3L153.8,167.1L155.2,168.9L156.8,170.6L158.2,172.2L159.8,173.9L161.2,175.4L162.8,177.0L164.2,178.4L165.8,179.9L167.2,181.3" fill="none" stroke="#bebebe" stroke-width="0.4"/>
<path d="M72.8,23.5L74.2,23.7L75.8,24.2L77.2,25.0L78.8,26.2L80.2,27.6L81.8,29.3L83.2,31.4L84.8,33.8L86.2,36.7L87.8,39.8L89.2,43.1L90.8,46.4L92.2,49.8L93.8,53.4L95.2,57.0L96.8,60.9L98.2,64.9L99.8,69.0L101.2,73.3L102.8,77.5L104.2,81.8L105.8,85.9L107.2,89.9L108.8,93.7L110.2,97.2L111.8,100.5L113.2,103.6L114.8,106.5L116.2,109.3L117.8,112.0L119.2,114.6L120.8,117.2L122.2,119.7L123.8,122.3L125.2,124.8L126.8,127.4L128.2,129.9L129.8,132.4L131.2,134.9L132.8,137.4L134.2,139.8L135.8,142.2L137.2,144.6L138.8,146.9L140.2,149.2L141.8,151.4L143.2,153.5L144.8,155.6L146.2,157.7L147.8,159.7L149.2,161.6L150.8,163.5L152.2,165.4L153.8,167.2L155.2,168.9L156.8,170.6L158.2,172.3L159.8,173.9L161.2,175.5L162.8,177.0" fill="none" stroke="#bebebe" stroke-width="0.4"/>
<path d="M72.8,23.5L74.2,23.7L75.8,24.2L77.2,25.1L78.8,26.2L80.2,27.7L81.8,29.4L83.2,31.4L84.8,33.9L86.2,36.8L87.8,39.9L89.2,43.2L90.8,46.5L92.2,50.0L93.8,53.5L95.2,57.2L96.8,61.0L98.2,65.0L99.8,69.2L101.2,73.4L102.8,77.7L104.2,81.9L105.8,86.1L107.2,90.1L108.8,93.8L110.2,97.3L111.8,100.6L113.2,103.7L114.8,106.7L116.2,109.5L117.8,112.1L119.2,114.8L120.8,117.3L122.2,119.8L123.8,122.4L125.2,124.9L126.8,127.5L128.2,130.0L129.8,132.5L131.2,135.0L132.8,137.5L134.2,139.9L135.8,142.3L137.2,144.7L138.8,147.0L140.2,149.2L141.8,151.4L143.2,153.6L144.8,155.7L146.2,157.7L147.8,159.7L149.2,161.7L150.8,163.6L152.2,165.4L153.8,167.2L155.2,168.9L156.8,170.6L158.2,172.3L159.8,173.9" fill="none" stroke="#bebebe" stroke-width="0.4"/>
<path d="M72.8,23.5L74.2,23.7L75.8,24.2L77.2,25.1L78.8,26.2L80.2,27.7L81.8,29.4L83.2,31.5L84.8,34.0L86.2,36.8L87.8,40.0L89.2,43.3L90.8,46.6L92.2,50.1L93.8,53.6L95.2,57.3L96.8,61.1L98.2,65.2L99.8,69.3L101.2,73.6L102.8,77.8L104.2,82.1L105.8,86.2L107.2,90.2L108.8,94.0L110.2,97.5L111.8,100.8L113.2,103.9L114.8,106.8L116.2,109.6L117.8,112.3L119.2,114.9L120.8,117.4L122.2,119.9L123.8,122.5L125.2,125.0L126.8,127.5L128.2,130.1L129.8,132.6L131.2,135.1L132.8,137.5L134.2,140.0L135.8,142.4L137.2,144.7L138.8,147.0L140.2,149.3L141.8,151.5L143.2,153.6L144.8,155.7L146.2,157.8L147.8,159.8L149.2,161.7L150.8,163.6L152.2,165.4L153.8,167.2L155.2,169.0L156.8,170.7" fill="none" stroke="#bebebe" stroke-width="0.4"/>
<path d="M72.8,23.5L74.2,23.7L75.8,24.2L77.2,25.1L78.8,26.3L80.2,27.7L81.8,29.4L83.2,31.5L84.8,34.0L86.2,36.9L87.8,40.1L89.2,43.4L90.8,46.7L92.2,50.2L93.8,53.7L95.2,57.4L96.8,61.3L98.2,65.3L99.8,69.5L101.2,73.7L102.8,78.0L104.2,82.2L105.8,86.4L107.2,90.4L108.8,94.1L110.2,97.6L111.8,100.9L113.2,104.0L114.8,106.9L116.2,109.7L117.8,112.4L119.2,115.0L120.8,117.5L122.2,120.0L123.8,122.6L125.2,125.1L126.8,127.6L128.2,130.1L129.8,132.6L131.2,135.1L132.8,137.6L134.2,140.0L135.8,142.4L137.2,144.8L138.8,147.1L140.2,149.3L141.8,151.5L143.2,153.7L144.8,155.8L146.2,157.8L147.8,159.8L149.2,161.7L150.8,163.6L152.2,165.5L153.8,167.2" fill="none" stroke="#bebebe" stroke-width="0.4"/>
<path d="M72.8,23.5L74.2,23.7L75.8,24.2L77.2,25.1L78.8,26.3L80.2,27.7L81.8,29.5L83.2,31.6L84.8,34.1L86.2,37.0L87.8,40.1L89.2,43.5L90.8,46.8L92.2,50.3L93.8,53.8L95.2,57.5L96.8,61.4L98.2,65.4L99.8,69.6L101.2,73.8L102.8,78.1L104.2,82.4L105.8,86.5L107.2,90.5L108.8,94.2L110.2,97.7L111.8,101.0L113.2,104.1L114.8,107.0L116.2,109.8L117.8,112.5L119.2,115.1L120.8,117.6L122.2,120.1L123.8,122.6L125.2,125.2L126.8,127.7L128.2,130.2L129.8,132.7L131.2,135.2L132.8,137.6L134.2,140.1L135.8,142.4L137.2,144.8L138.8,147.1L140.2,149.4L141.8,151.6L143.2,153.7L144.8,155.8L146.2,157.8L147.8,159.8L149.2,161.7L150.8,163.6L152.2,165.5" fill="none" stroke="#bebebe" stroke-width="0.4"/>
<path d="M72.8,23.5L74.2,23.7L75.8,24.2L77.2,25.1L78.8,26.3L80.2,27.8L81.8,29.5L83.2,31.6L84.8,34.1L86.2,37.0L87.8,40.2L89.2,43.5L90.8,46.9L92.2,50.4L93.8,53.9L95.2,57.6L96.8,61.5L98.2,65.5L99.8,69.7L101.2,73.9L102.8,78.2L104.2,82.5L105.8,86.6L107.2,90.6L108.8,94.4L110.2,97.9L111.8,101.1L113.2,104.2L114.8,107.1L116.2,109.9L117.8,112.6L119.2,115.1L120.8,117.7L122.2,120.2L123.8,122.7L125.2,125.2L126.8,127.7L128.2,130.2L129.8,132.7L131.2,135.2L132.8,137.7L134.2,140.1L135.8,142.5L137.2,144.8L138.8,147.1L140.2,149.4L141.8,151.6L143.2,153.7L144.8,155.8L146.2,157.9L147.8,159.8L149.2,161.8" fill="none" stroke="#bebebe" stroke-width="0.4"/>
<path d="M72.8,23.5L74.2,23.7L75.8,24.2L77.2,25.1L78.8,26.3L80.2,27.8L81.8,29.5L83.2,31.7L84.8,34.2L86.2,37.1L87.8,40.3L89.2,43.6L90.8,47.0L92.2,50.5L93.8,54.0L95.2,57.7L96.8,61.6L98.2,65.6L99.8,69.8L101.2,74.1L102.8,78.3L104.2,82.6L105.8,86.7L107.2,90.7L108.8,94.5L110.2,98.0L111.8,101.2L113.2,104.3L114.8,107.2L116.2,110.0L117.8,112.6L119.2,115.2L120.8,117.7L122.2,120.2L123.8,122.8L125.2,125.3L126.8,127.8L128.2,130.3L129.8,132.8L131.2,135.3L132.8,137.7L134.2,140.1L135.8,142.5L137.2,144.9L138.8,147.2L140.2,149.4L141.8,151.6L143.2,153.8L144.8,155.8L146.2,157.9" fill="none" stroke="#bebebe" stroke-width="0.4"/>
<path d="M72.8,23.5L74.2,23.7L75.8,24.2L77.2,25.1L78.8,26.3L80.2,27.8L81.8,29.6L83.2,31.7L84.8,34.2L86.2,37.2L87.8,40.4L89.2,43.7L90.8,47.1L92.2,50.6L93.8,54.1L95.2,57.8L96.8,61.7L98.2,65.7L99.8,69.9L101.2,74.2L102.8,78.5L104.2,82.7L105.8,86.8L107.2,90.8L108.8,94.6L110.2,98.1L111.8,101.3L113.2,104.4L114.8,107.3L116.2,110.1L117.8,112.7L119.2,115.3L120.8,117.8L122.2,120.3L123.8,122.8L125.2,125.3L126.8,127.8L128.2,130.3L129.8,132.8L131.2,135.3L132.8,137.7L134.2,140.2L135.8,142.6L137.2,144.9L138.8,147.2L140.2,149.4L141.8,151.6L143.2,153.8" fill="none" stroke="#bebebe" stroke-width="0.4"/>
<path d="M72.8,23.5L74.2,23.7L75.8,24.2L77.2,25.1L78.8,26.3L80.2,27.8L81.8,29.6L83.2,31.7L84.8,34.3L86.2,37.2L87.8,40.4L89.2,43.8L90.8,47.2L92.2,50.7L93.8,54.2L95.2,57.9L96.8,61.8L98.2,65.8L99.8,70.0L101.2,74.3L102.8,78.6L104.2,82.8L105.8,86.9L107.2,90.9L108.8,94.7L110.2,98.2L111.8,101.4L113.2,104.5L114.8,107.4L116.2,110.1L117.8,112.8L119.2,115.3L120.8,117.9L122.2,120.4L123.8,122.9L125.2,125.4L126.8,127.9L128.2,130.4L129.8,132.9L131.2,135.3L132.8,137.8L134.2,140.2L135.8,142.6L137.2,144.9L138.8,147.2L140.2,149.5" fill="none" stroke="#bebebe" stroke-width="0.4"/>
<path d="M72.8,23.5L74.2,23.7L75.8,24.2L77.2,25.1L78.8,26.4L80.2,27.8L81.8,29.6L83.2,31.8L84.8,34.3L86.2,37.3L87.8,40.5L89.2,43.8L90.8,47.3L92.2,50.7L93.8,54.3L95.2,58.0L96.8,61.9L98.2,65.9L99.8,70.1L101.2,74.4L102.8,78.6L104.2,82.9L105.8,87.0L107.2,91.0L108.8,94.8L110.2,98.2L111.8,101.5L113.2,104.6L114.8,107.5L116.2,110.2L117.8,112.8L119.2,115.4L120.8,117.9L122.2,120.4L123.8,122.9L125.2,125.4L126.8,127.9L128.2,130.4L129.8,132.9L131.2,135.4L132.8,137.8L134.2,140.2L135.8,142.6L137.2,144.9L138.8,147.2" fill="none" stroke="#bebebe" stroke-width="0.4"/>
<path d="M72.8,23.5L74.2,23.7L75.8,24.2L77.2,25.1L78.8,26.4L80.2,27.9L81.8,29.7L83.2,31.8L84.8,34.4L86.2,37.3L87.8,40.6L89.2,43.9L90.8,47.3L92.2,50.8L93.8,54.4L95.2,58.1L96.8,61.9L98.2,66.0L99.8,70.2L101.2,74.4L102.8,78.7L104.2,83.0L105.8,87.1L107.2,91.1L108.8,94.8L110.2,98.3L111.8,101.6L113.2,104.6L114.8,107.5L116.2,110.3L117.8,112.9L119.2,115.5L120.8,118.0L122.2,120.5L123.8,122.9L125.2,125.4L126.8,127.9L128.2,130.4L129.8,132.9L131.2,135.4L132.8,137.8L134.2,140.2L135.8,142.6L137.2,145.0" fill="none" stroke="#bebebe" stroke-width="0.4"/>
<path d="M72.8,23.5L74.2,23.7L75.8,24.2L77.2,25.2L78.8,26.4L80.2,27.9L81.8,29.7L83.2,31.8L84.8,34.4L86.2,37.4L87.8,40.6L89.2,44.0L90.8,47.4L92.2,50.9L93.8,54.5L95.2,58.2L96.8,62.0L98.2,66.1L99.8,70.2L101.2,74.5L102.8,78.8L104.2,83.1L105.8,87.2L107.2,91.2L108.8,94.9L110.2,98.4L111.8,101.6L113.2,104.7L114.8,107.6L116.2,110.3L117.8,112.9L119.2,115.5L120.8,118.0L122.2,120.5L123.8,123.0L125.2,125.5L126.8,128.0L128.2,130.5L129.8,133.0L131.2,135.4L132.8,137.9L134.2,140.3L135.8,142.6" fill="none" stroke="#bebebe" stroke-width="0.4"/>
<path d="M72.8,23.5L74.2,23.7L75.8,24.2L77.2,25.2L78.8,26.4L80.2,27.9L81.8,29.7L83.2,31.9L84.8,34.5L86.2,37.4L87.8,40.7L89.2,44.0L90.8,47.5L92.2,50.9L93.8,54.5L95.2,58.2L96.8,62.1L98.2,66.1L99.8,70.3L101.2,74.6L102.8,78.9L104.2,83.1L105.8,87.3L107.2,91.3L108.8,95.0L110.2,98.5L111.8,101.7L113.2,104.8L114.8,107.6L116.2,110.4L117.8,113.0L119.2,115.5L120.8,118.0L122.2,120.5L123.8,123.0L125.2,125.5L126.8,128.0L128.2,130.5L129.8,133.0L131.2,135.4L132.8,137.9L134.2,140.3" fill="none" stroke="#bebebe" stroke-width="0.4"/>
<path d="M72.8,23.5L74.2,23.7L75.8,24.2L77.2,25.2L78.8,26.4L80.2,27.9L81.8,29.7L83.2,31.9L84.8,34.5L86.2,37.5L87.8,40.7L89.2,44.1L90.8,47.5L92.2,51.0L93.8,54.6L95.2,58.3L96.8,62.2L98.2,66.2L99.8,70.4L101.2,74.7L102.8,79.0L104.2,83.2L105.8,87.4L107.2,91.3L108.8,95.1L110.2,98.5L111.8,101.8L113.2,104.8L114.8,107.7L116.2,110.4L117.8,113.0L119.2,115.6L120.8,118.1L122.2,120.6L123.8,123.1L125.2,125.5L126.8,128.0L128.2,130.5L129.8,133.0L131.2,135.5L132.8,137.9" fill="none" stroke="#bebebe" stroke-width="0.4"/>
<path d="M72.8,23.5L74.2,23.7L75.8,24.2L77.2,25.2L78.8,26.4L80.2,27.9L81.8,29.7L83.2,31.9L84.8,34.5L86.2,37.5L87.8,40.8L89.2,44.2L90.8,47.6L92.2,51.1L93.8,54.7L95.2,58.4L96.8,62.2L98.2,66.3L99.8,70.5L101.2,74.7L102.8,79.0L104.2,83.3L105.8,87.4L107.2,91.4L108.8,95.1L110.2,98.6L111.8,101.8L113.2,104.9L114.8,107.7L116.2,110.5L117.8,113.1L119.2,115.6L120.8,118.1L122.2,120.6L123.8,123.1L125.2,125.6L126.8,128.1L128.2,130.5L129.8,133.0L131.2,135.5" fill="none" stroke="#bebebe" stroke-width="0.4"/>
<path d="M72.8,23.5L74.2,23.7L75.8,24.2L77.2,25.2L78.8,26.4L80.2,28.0L81.8,29.8L83.2,32.0L84.8,34.6L86.2,37.6L87.8,40.8L89.2,44.2L90.8,47.6L92.2,51.1L93.8,54.7L95.2,58.4L96.8,62.3L98.2,66.3L99.8,70.5L101.2,74.8L102.8,79.1L104.2,83.3L105.8,87.5L107.2,91.4L108.8,95.2L110.2,98.6L111.8,101.9L113.2,104.9L114.8,107.8L116.2,110.5L117.8,113.1L119.2,115.7L120.8,118.1L122.2,120.6L123.8,123.1L125.2,125.6L126.8,128.1L128.2,130.6L129.8,133.0" fill="none" stroke="#bebebe" stroke-width="0.4"/>
<path d="M72.8,23.5L74.2,23.7L75.8,24.2L77.2,25.2L78.8,26.4L80.2,28.0L81.8,29.8L83.2,32.0L84.8,34.6L86.2,37.6L87.8,40.9L89.2,44.3L90.8,47.7L92.2,51.2L93.8,54.8L95.2,58.5L96.8,62.3L98.2,66.4L99.8,70.6L101.2,74.8L102.8,79.1L104.2,83.4L105.8,87.5L107.2,91.5L108.8,95.2L110.2,98.7L111.8,101.9L113.2,105.0L114.8,107.8L116.2,110.5L117.8,113.2L119.2,115.7L120.8,118.2L122.2,120.6L123.8,123.1L125.2,125.6L126.8,128.1L128.2,130.6" fill="none" stroke="#bebebe" stroke-width="0.4"/>
<path d="M72.8,23.5L74.2,23.7L75.8,24.2L77.2,25.2L78.8,26.5L80.2,28.0L81.8,29.8L83.2,32.0L84.8,34.6L86.2,37.7L87.8,40.9L89.2,44.3L90.8,47.7L92.2,51.2L93.8,54.8L95.2,58.5L96.8,62.4L98.2,66.4L99.8,70.6L101.2,74.9L102.8,79.2L104.2,83.4L105.8,87.6L107.2,91.5L108.8,95.3L110.2,98.7L111.8,102.0L113.2,105.0L114.8,107.9L116.2,110.6L117.8,113.2L119.2,115.7L120.8,118.2L122.2,120.7L123.8,123.1L125.2,125.6L126.8,128.1" fill="none" stroke="#bebebe" stroke-width="0.4"/>
<path d="M72.8,23.5L74.2,23.7L75.8,24.2L77.2,25.2L78.8,26.5L80.2,28.0L81.8,29.8L83.2,32.0L84.8,34.7L86.2,37.7L87.8,41.0L89.2,44.4L90.8,47.8L92.2,51.3L93.8,54.9L95.2,58.6L96.8,62.4L98.2,66.5L99.8,70.7L101.2,75.0L102.8,79.2L104.2,83.5L105.8,87.6L107.2,91.6L108.8,95.3L110.2,98.8L111.8,102.0L113.2,105.0L114.8,107.9L116.2,110.6L117.8,113.2L119.2,115.7L120.8,118.2L122.2,120.7L123.8,123.2L125.2,125.6" fill="none" stroke="#bebebe" stroke-width="0.4"/>
<path d="M72.8,23.5L74.2,23.7L75.8,24.3L77.2,25.2L78.8,26.5L80.2,28.0L81.8,29.8L83.2,32.1L84.8,34.7L86.2,37.7L87.8,41.0L89.2,44.4L90.8,47.8L92.2,51.3L93.8,54.9L95.2,58.6L96.8,62.5L98.2,66.5L99.8,70.7L101.2,75.0L102.8,79.3L104.2,83.5L105.8,87.7L107.2,91.6L108.8,95.4L110.2,98.8L111.8,102.0L113.2,105.1L114.8,107.9L116.2,110.6L117.8,113.2L119.2,115.8L120.8,118.2L122.2,120.7L123.8,123.2" fill="none" stroke="#bebebe" stroke-width="0.4"/>
<path d="M72.8,23.5L74.2,23.7L75.8,24.3L77.2,25.2L78.8,26.5L80.2,28.0L81.8,29.9L83.2,32.1L84.8,34.7L86.2,37.8L87.8,41.0L89.2,44.4L90.8,47.9L92.2,51.4L93.8,55.0L95.2,58.7L96.8,62.5L98.2,66.6L99.8,70.8L101.2,75.0L102.8,79.3L104.2,83.6L105.8,87.7L107.2,91.7L108.8,95.4L110.2,98.8L111.8,102.1L113.2,105.1L114.8,107.9L116.2,110.7L117.8,113.3L119.2,115.8L120.8,118.3L122.2,120.7" fill="none" stroke="#bebebe" stroke-width="0.4"/>
<path d="M72.8,23.5L74.2,23.7L75.8,24.3L77.2,25.2L78.8,26.5L80.2,28.0L81.8,29.9L83.2,32.1L84.8,34.8L86.2,37.8L87.8,41.1L89.2,44.5L90.8,47.9L92.2,51.4L93.8,55.0L95.2,58.7L96.8,62.6L98.2,66.6L99.8,70.8L101.2,75.1L102.8,79.4L104.2,83.6L105.8,87.8L107.2,91.7L108.8,95.4L110.2,98.9L111.8,102.1L113.2,105.1L114.8,108.0L116.2,110.7L117.8,113.3L119.2,115.8L120.8,118.3L122.2,120.7" fill="none" stroke="#bebebe" stroke-width="0.4"/>
<path d="M72.8,23.5L74.2,23.7L75.8,24.3L77.2,25.2L78.8,26.5L80.2,28.1L81.8,29.9L83.2,32.1L84.8,34.8L86.2,37.8L87.8,41.1L89.2,44.5L90.8,48.0L92.2,51.5L93.8,55.0L95.2,58.8L96.8,62.6L98.2,66.7L99.8,70.9L101.2,75.1L102.8,79.4L104.2,83.7L105.8,87.8L107.2,91.7L108.8,95.5L110.2,98.9L111.8,102.1L113.2,105.1L114.8,108.0L116.2,110.7L117.8,113.3L119.2,115.8L120.8,118.3" fill="none" stroke="#bebebe" stroke-width="0.4"/>
<path d="M72.8,23.5L74.2,23.7L75.8,24.3L77.2,25.2L78.8,26.5L80.2,28.1L81.8,29.9L83.2,32.2L84.8,34.8L86.2,37.9L87.8,41.1L89.2,44.6L90.8,48.0L92.2,51.5L93.8,55.1L95.2,58.8L96.8,62.7L98.2,66.7L99.8,70.9L101.2,75.2L102.8,79.5L104.2,83.7L105.8,87.8L107.2,91.8L108.8,95.5L110.2,98.9L111.8,102.2L113.2,105.2L114.8,108.0L116.2,110.7L117.8,113.3L119.2,115.8" fill="none" stroke="#bebebe" stroke-width="0.4"/>
<path d="M72.8,23.5L74.2,23.7L75.8,24.3L77.2,25.2L78.8,26.5L80.2,28.1L81.8,29.9L83.2,32.2L84.8,34.8L86.2,37.9L87.8,41.2L89.2,44.6L90.8,48.0L92.2,51.5L93.8,55.1L95.2,58.8L96.8,62.7L98.2,66.7L99.8,70.9L101.2,75.2L102.8,79.5L104.2,83.7L105.8,87.9L107.2,91.8L108.8,95.5L110.2,99.0L111.8,102.2L113.2,105.2L114.8,108.0L116.2,110.7L117.8,113.3L119.2,115.8" fill="none" stroke="#bebebe" stroke-width="0.4"/>
<path d="M72.8,23.5L74.2,23.7L75.8,24.3L77.2,25.2L78.8,26.5L80.2,28.1L81.8,29.9L83.2,32.2L84.8,34.9L86.2,37.9L87.8,41.2L89.2,44.6L90.8,48.1L92.2,51.6L93.8,55.2L95.2,58.9L96.8,62.7L98.2,66.8L99.8,71.0L101.2,75.2L102.8,79.5L104.2,83.8L105.8,87.9L107.2,91.8L108.8,95.5L110.2,99.0L111.8,102.2L113.2,105.2L114.8,108.1L116.2,110.8L117.8,113.3" fill="none" stroke="#bebebe" stroke-width="0.4"/>
<path d="M72.8,23.5L74.2,23.7L75.8,24.3L77.2,25.2L78.8,26.5L80.2,28.1L81.8,30.0L83.2,32.2L84.8,34.9L86.2,37.9L87.8,41.2L89.2,44.6L90.8,48.1L92.2,51.6L93.8,55.2L95.2,58.9L96.8,62.8L98.2,66.8L99.8,71.0L101.2,75.3L102.8,79.5L104.2,83.8L105.8,87.9L107.2,91.9L108.8,95.6L110.2,99.0L111.8,102.2L113.2,105.2L114.8,108.1L116.2,110.8" fill="none" stroke="#bebebe" stroke-width="0.4"/>
<path d="M72.8,23.5L74.2,23.7L75.8,24.3L77.2,25.2L78.8,26.5L80.2,28.1L81.8,30.0L83.2,32.2L84.8,34.9L86.2,38.0L87.8,41.3L89.2,44.7L90.8,48.1L92.2,51.6L93.8,55.2L95.2,58.9L96.8,62.8L98.2,66.8L99.8,71.0L101.2,75.3L102.8,79.6L104.2,83.8L105.8,87.9L107.2,91.9L108.8,95.6L110.2,99.0L111.8,102.2L113.2,105.3L114.8,108.1L116.2,110.8" fill="none" stroke="#bebebe" stroke-width="0.4"/>
<path d="M72.8,23.5L74.2,23.7L75.8,24.3L77.2,25.3L78.8,26.6L80.2,28.1L81.8,30.0L83.2,32.2L84.8,34.9L86.2,38.0L87.8,41.3L89.2,44.7L90.8,48.2L92.2,51.7L93.8,55.2L95.2,58.9L96.8,62.8L98.2,66.9L99.8,71.0L101.2,75.3L102.8,79.6L104.2,83.8L105.8,88.0L107.2,91.9L108.8,95.6L110.2,99.1L111.8,102.3L113.2,105.3L114.8,108.1" fill="none" stroke="#bebebe" stroke-width="0.4"/>
<path d="M72.8,23.5L74.2,23.7L75.8,24.3L77.2,25.3L78.8,26.6L80.2,28.1L81.8,30.0L83.2,32.3L84.8,34.9L86.2,38.0L87.8,41.3L89.2,44.7L90.8,48.2L92.2,51.7L93.8,55.3L95.2,59.0L96.8,62.8L98.2,66.9L99.8,71.1L101.2,75.3L102.8,79.6L104.2,83.9L105.8,88.0L107.2,91.9L108.8,95.6L110.2,99.1L111.8,102.3L113.2,105.3" fill="none" stroke="#bebebe" stroke-width="0.4"/>
<path d="M72.8,23.5L74.2,23.7L75.8,24.3L77.2,25.3L78.8,26.6L80.2,28.1L81.8,30.0L83.2,32.3L84.8,35.0L86.2,38.0L87.8,41.3L89.2,44.8L90.8,48.2L92.2,51.7L93.8,55.3L95.2,59.0L96.8,62.9L98.2,66.9L99.8,71.1L101.2,75.4L102.8,79.6L104.2,83.9L105.8,88.0L107.2,92.0L108.8,95.7L110.2,99.1L111.8,102.3L113.2,105.3" fill="none" stroke="#bebebe" stroke-width="0.4"/>
<path d="M72.8,23.5L74.2,23.7L75.8,24.3L77.2,25.3L78.8,26.6L80.2,28.1L81.8,30.0L83.2,32.3L84.8,35.0L86.2,38.1L87.8,41.4L89.2,44.8L90.8,48.2L92.2,51.7L93.8,55.3L95.2,59.0L96.8,62.9L98.2,66.9L99.8,71.1L101.2,75.4L102.8,79.7L104.2,83.9L105.8,88.0L107.2,92.0L108.8,95.7L110.2,99.1L111.8,102.3" fill="none" stroke="#bebebe" stroke-width="0.4"/>
<path d="M72.8,23.5L74.2,23.7L75.8,24.3L77.2,25.3L78.8,26.6L80.2,28.2L81.8,30.0L83.2,32.3L84.8,35.0L86.2,38.1L87.8,41.4L89.2,44.8L90.8,48.3L92.2,51.8L93.8,55.3L95.2,59.0L96.8,62.9L98.2,66.9L99.8,71.1L101.2,75.4L102.8,79.7L104.2,83.9L105.8,88.0L107.2,92.0L108.8,95.7L110.2,99.1L111.8,102.3" fill="none" stroke="#bebebe" stroke-width="0.4"/>
<path d="M72.8,23.5L74.2,23.7L75.8,24.3L77.2,25.3L78.8,26.6L80.2,28.2L81.8,30.0L83.2,32.3L84.8,35.0L86.2,38.1L87.8,41.4L89.2,44.8L90.8,48.3L92.2,51.8L93.8,55.4L95.2,59.1L96.8,62.9L98.2,67.0L99.8,71.2L101.2,75.4L102.8,79.7L104.2,83.9L105.8,88.1L107.2,92.0L108.8,95.7L110.2,99.1" fill="none" stroke="#bebebe" stroke-width="0.4"/>
<path d="M72.8,23.5L74.2,23.7L75.8,24.3L77.2,25.3L78.8,26.6L80.2,28.2L81.8,30.1L83.2,32.3L84.8,35.0L86.2,38.1L87.8,41.4L89.2,44.9L90.8,48.3L92.2,51.8L93.8,55.4L95.2,59.1L96.8,62.9L98.2,67.0L99.8,71.2L101.2,75.4L102.8,79.7L104.2,84.0L105.8,88.1L107.2,92.0L108.8,95.7" fill="none" stroke="#bebebe" stroke-width="0.4"/>
<path d="M72.8,23.5L74.2,23.7L75.8,24.3L77.2,25.3L78.8,26.6L80.2,28.2L81.8,30.1L83.2,32.3L84.8,35.0L86.2,38.1L87.8,41.4L89.2,44.9L90.8,48.3L92.2,51.8L93.8,55.4L95.2,59.1L96.8,63.0L98.2,67.0L99.8,71.2L101.2,75.5L102.8,79.7L104.2,84.0L105.8,88.1L107.2,92.0L108.8,95.7" fill="none" stroke="#bebebe" stroke-width="0.4"/>
<path d="M72.8,23.5L74.2,23.7L75.8,24.3L77.2,25.3L78.8,26.6L80.2,28.2L81.8,30.1L83.2,32.4L84.8,35.1L86.2,38.1L87.8,41.5L89.2,44.9L90.8,48.3L92.2,51.8L93.8,55.4L95.2,59.1L96.8,63.0L98.2,67.0L99.8,71.2L101.2,75.5L102.8,79.8L104.2,84.0L105.8,88.1L107.2,92.0" fill="none" stroke="#bebebe" stroke-width="0.4"/>
<path d="M72.8,23.5L74.2,23.7L75.8,24.3L77.2,25.3L78.8,26.6L80.2,28.2L81.8,30.1L83.2,32.4L84.8,35.1L86.2,38.2L87.8,41.5L89.2,44.9L90.8,48.4L92.2,51.9L93.8,55.4L95.2,59.1L96.8,63.0L98.2,67.0L99.8,71.2L101.2,75.5L102.8,79.8L104.2,84.0L105.8,88.1" fill="none" stroke="#bebebe" stroke-width="0.4"/>
<path d="M72.8,23.5L74.2,23.7L75.8,24.3L77.2,25.3L78.8,26.6L80.2,28.2L81.8,30.1L83.2,32.4L84.8,35.1L86.2,38.2L87.8,41.5L89.2,44.9L90.8,48.4L92.2,51.9L93.8,55.5L95.2,59.2L96.8,63.0L98.2,67.1L99.8,71.2L101.2,75.5L102.8,79.8L104.2,84.0L105.8,88.1" fill="none" stroke="#bebebe" stroke-width="0.4"/>
<path d="M72.8,23.5L74.2,23.7L75.8,24.3L77.2,25.3L78.8,26.6L80.2,28.2L81.8,30.1L83.2,32.4L84.8,35.1L86.2,38.2L87.8,41.5L89.2,44.9L90.8,48.4L92.2,51.9L93.8,55.5L95.2,59.2L96.8,63.0L98.2,67.1L99.8,71.2L101.2,75.5L102.8,79.8L104.2,84.0" fill="none" stroke="#bebebe" stroke-width="0.4"/>
<path d="M72.8,23.5L74.2,23.7L75.8,24.3L77.2,25.3L78.8,26.6L80.2,28.2L81.8,30.1L83.2,32.4L84.8,35.1L86.2,38.2L87.8,41.5L89.2,45.0L90.8,48.4L92.2,51.9L93.8,55.5L95.2,59.2L96.8,63.0L98.2,67.1L99.8,71.3L101.2,75.5L102.8,79.8" fill="none" stroke="#bebebe" stroke-width="0.4"/>
<path d="M72.8,23.5L74.2,23.7L75.8,24.3L77.2,25.3L78.8,26.6L80.2,28.2L81.8,30.1L83.2,32.4L84.8,35.1L86.2,38.2L87.8,41.5L89.2,45.0L90.8,48.4L92.2,51.9L93.8,55.5L95.2,59.2L96.8,63.1L98.2,67.1L99.8,71.3L101.2,75.5L102.8,79.8" fill="none" stroke="#bebebe" stroke-width="0.4"/>
<path d="M72.8,23.5L74.2,23.7L75.8,24.3L77.2,25.3L78.8,26.6L80.2,28.2L81.8,30.1L83.2,32.4L84.8,35.1L86.2,38.2L87.8,41.6L89.2,45.0L90.8,48.4L92.2,51.9L93.8,55.5L95.2,59.2L96.8,63.1L98.2,67.1L99.8,71.3L101.2,75.5" fill="none" stroke="#bebebe" stroke-width="0.4"/>
<path d="M72.8,23.5L74.2,23.7L75.8,24.3L77.2,25.3L78.8,26.6L80.2,28.2L81.8,30.1L83.2,32.4L84.8,35.2L86.2,38.2L87.8,41.6L89.2,45.0L90.8,48.5L92.2,52.0L93.8,55.5L95.2,59.2L96.8,63.1L98.2,67.1L99.8,71.3" fill="none" stroke="#bebebe" stroke-width="0.4"/>
<path d="M72.75,23.50 L73.50,23.55 L74.25,23.70 L75.00,23.97 L75.75,24.36 L76.50,24.85 L77.25,25.46 L78.00,26.17 L78.75,26.96 L79.50,27.85 L80.25,28.82 L81.00,29.89 L81.75,31.05 L82.50,32.33 L83.25,33.72 L84.00,35.22 L84.75,36.82 L85.50,38.50 L86.25,40.26 L87.00,42.07 L87.75,43.91 L88.50,45.79 L89.25,47.67 L90.00,49.55 L90.75,51.44 L91.50,53.34 L92.25,55.24 L93.00,57.15 L93.75,59.09 L94.50,61.03 L95.25,63.00 L96.00,65.00 L96.75,67.01 L97.50,69.06 L98.25,71.14 L99.00,73.23 L99.75,75.33 L100.50,77.44 L101.25,79.56 L102.00,81.66 L102.75,83.75 L103.50,85.82 L104.25,87.86 L105.00,89.86 L105.75,91.83 L106.50,93.75 L107.25,95.62 L108.00,97.42 L108.75,99.16 L109.50,100.84 L110.25,102.46 L111.00,104.02 L111.75,105.53 L112.50,107.00 L113.25,108.41 L114.00,109.79 L114.75,111.13 L115.50,112.44 L116.25,113.72 L117.00,114.97 L117.75,116.20 L118.50,117.41 L119.25,118.61 L120.00,119.79 L120.75,120.97 L121.50,122.15 L122.25,123.32 L123.00,124.50 L123.75,125.68 L124.50,126.87 L125.25,128.05 L126.00,129.23 L126.75,130.42 L127.50,131.60 L128.25,132.78 L129.00,133.96 L129.75,135.14 L130.50,136.31 L131.25,137.48 L132.00,138.65 L132.75,139.81 L133.50,140.96 L134.25,142.12 L135.00,143.26 L135.75,144.40 L136.50,145.53 L137.25,146.65 L138.00,147.76 L138.75,148.86 L139.50,149.95 L140.25,151.04 L141.00,152.11 L141.75,153.17 L142.50,154.22 L143.25,155.26 L144.00,156.29 L144.75,157.30 L145.50,158.31 L146.25,159.30 L147.00,160.28 L147.75,161.25 L148.50,162.21 L149.25,163.16 L150.00,164.09 L150.75,165.01 L151.50,165.92 L152.25,166.82 L153.00,167.70 L153.75,168.58 L154.50,169.44 L155.25,170.28 L156.00,171.12 L156.75,171.94 L157.50,172.75 L158.25,173.54 L159.00,174.33 L159.75,175.10 L160.50,175.85 L161.25,176.59 L162.00,177.32 L162.75,178.04 L163.50,178.74 L164.25,179.43 L165.00,180.11 L165.75,180.77 L166.50,181.42 L167.25,182.06 L168.00,182.69 L168.75,183.30 L169.50,183.91 L170.25,184.50 L171.00,185.09 L171.75,185.66 L172.50,186.23 L173.25,186.78 L174.00,187.33 L174.75,187.86 L175.50,188.39 L176.25,188.91 L177.00,189.42 L177.75,189.93 L178.50,190.42 L179.25,190.91 L180.00,191.39 L180.75,191.87 L181.50,192.33 L182.25,192.80 L183.00,193.25 L183.75,193.70 L184.50,194.15 L185.25,194.59 L186.00,195.02 L186.75,195.45 L187.50,195.88 L188.25,196.31 L189.00,196.72 L189.75,197.14 L190.50,197.55 L191.25,197.96 L192.00,198.37 L192.75,198.77 L193.50,199.16 L194.25,199.56 L195.00,199.95 L195.75,200.33 L196.50,200.71 L197.25,201.09 L198.00,201.46 L198.75,201.83 L199.50,202.20 L200.25,202.56 L201.00,202.91 L201.75,203.26 L202.50,203.61 L203.25,203.96 L204.00,204.29 L204.75,204.63 L205.50,204.96 L206.25,205.28 L207.00,205.61 L207.75,205.92 L208.50,206.23 L209.25,206.54 L210.00,206.84 L210.75,207.14 L211.50,207.43 L212.25,207.72 L213.00,208.01 L213.75,208.28 L214.50,208.56 L215.25,208.83 L216.00,209.09 L216.75,209.35 L217.50,209.60 L218.25,209.85 L219.00,210.10 L219.75,210.33 L220.50,210.57 L221.25,210.80 L222.00,211.02 L222.75,211.24 L223.50,211.46 L224.25,211.67 L225.00,211.87 L225.75,212.07 L226.50,212.27 L227.25,212.47 L228.00,212.66 L228.75,212.84 L229.50,213.02 L230.25,213.20 L231.00,213.38 L231.75,213.55 L232.50,213.72 L233.25,213.88 L234.00,214.04 L234.75,214.20 L235.50,214.35 L236.25,214.51 L237.00,214.66 L237.75,214.80 L238.50,214.94 L239.25,215.09 L240.00,215.22 L240.75,215.36 L241.50,215.49 L242.25,215.62 L243.00,215.75 L243.75,215.88 L244.50,216.00 L245.25,216.13 L246.00,216.25 L246.75,216.37 L247.50,216.48 L248.25,216.60 L249.00,216.72 L249.75,216.83 L250.50,216.94 L251.25,217.05 L252.00,217.16 L252.75,217.27 L253.50,217.38 L254.25,217.48 L255.00,217.59 L255.75,217.69 L256.50,217.80 L257.25,217.90 L258.00,218.01 L258.75,218.11 L259.50,218.21 L260.25,218.31 L261.00,218.41 L261.75,218.51 L262.50,218.61 L263.25,218.71 L264.00,218.81 L264.75,218.90 L265.50,219.00 L266.25,219.09 L267.00,219.19 L267.75,219.28 L268.50,219.37 L269.25,219.47 L270.00,219.56 L270.75,219.65 L271.50,219.74 L272.25,219.82 L273.00,219.91 L273.75,220.00 L274.50,220.08 L275.25,220.17 L276.00,220.25 L276.75,220.34 L277.50,220.42 L278.25,220.50 L279.00,220.58 L279.75,220.66 L280.50,220.74 L281.25,220.81 L282.00,220.89 L282.75,220.96 L283.50,221.04 L284.25,221.11 L285.00,221.18 L285.75,221.25 L286.50,221.32 L287.25,221.39 L288.00,221.46 L288.75,221.53 L289.50,221.59 L290.25,221.66 L291.00,221.72 L291.75,221.78 L292.50,221.85 L293.25,221.91 L294.00,221.97 L294.75,222.02 L295.50,222.08 L296.25,222.14 L297.00,222.19 L297.75,222.24 L298.50,222.30 L299.25,222.35 L300.00,222.40 L300.75,222.44 L301.50,222.49 L302.25,222.54 L303.00,222.58 L303.75,222.62 L304.50,222.67 L305.25,222.71 L306.00,222.75 L306.75,222.79 L307.50,222.82 L308.25,222.86 L309.00,222.89 L309.75,222.93 L310.50,222.96 L311.25,222.99 L312.00,223.02 L312.75,223.05 L313.50,223.08 L314.25,223.10 L315.00,223.13 L315.75,223.16 L316.50,223.18 L317.25,223.20 L318.00,223.23 L318.75,223.25 L319.50,223.27 L320.25,223.29 L321.00,223.31 L321.75,223.32 L322.50,223.34 L323.25,223.36 L324.00,223.38 L324.75,223.39 L325.50,223.41 L326.25,223.42 L327.00,223.43 L327.75,223.45 L328.50,223.46 L329.25,223.47 L330.00,223.48 L330.75,223.49 L331.50,223.50 L332.25,223.51 L333.00,223.52 L333.75,223.53 L334.50,223.54 L335.25,223.55 L336.00,223.55 L336.75,223.56 L337.50,223.57 L338.25,223.58 L339.00,223.58 L339.75,223.59 L340.50,223.60 L341.25,223.60 L342.00,223.61 L342.75,223.61 L343.50,223.62 L344.25,223.63 L345.00,223.63 L345.75,223.64 L346.50,223.64 L347.25,223.65 L348.00,223.66 L348.75,223.66 L349.50,223.67 L350.25,223.67 L351.00,223.68 L351.75,223.69 L352.50,223.69 L353.25,223.70 L354.00,223.71 L354.75,223.71 L355.50,223.72 L356.25,223.73 L357.00,223.74 L357.75,223.75 L358.50,223.76 L359.25,223.77 L360.00,223.78 L360.75,223.79 L361.50,223.80 L362.25,223.81 L363.00,223.82 L363.75,223.83 L364.50,223.85 L365.25,223.86 L366.00,223.87 L366.75,223.89 L367.50,223.90 L368.25,223.92 L369.00,223.94 L369.75,223.96 L370.50,223.97 L371.25,223.99 L372.00,224.01 L372.75,224.03" fill="none" stroke="#000" stroke-width="1.9" stroke-linecap="butt" stroke-linejoin="round"/>
<path d="M72.75,23.50 L73.50,23.55 L74.25,23.70 L75.00,23.96 L75.75,24.33 L76.50,24.80 L77.25,25.36 L78.00,26.01 L78.75,26.73 L79.50,27.51 L80.25,28.36 L81.00,29.28 L81.75,30.30 L82.50,31.41 L83.25,32.64 L84.00,33.98 L84.75,35.42 L85.50,36.94 L86.25,38.53 L87.00,40.18 L87.75,41.86 L88.50,43.57 L89.25,45.29 L90.00,47.01 L90.75,48.73 L91.50,50.46 L92.25,52.21 L93.00,53.97 L93.75,55.76 L94.50,57.58 L95.25,59.44 L96.00,61.33 L96.75,63.27 L97.50,65.26 L98.25,67.29 L99.00,69.36 L99.75,71.45 L100.50,73.57 L101.25,75.70 L102.00,77.83 L102.75,79.96 L103.50,82.08 L104.25,84.18 L105.00,86.25 L105.75,88.28 L106.50,90.27 L107.25,92.20 L108.00,94.07 L108.75,95.87 L109.50,97.61 L110.25,99.29 L111.00,100.91 L111.75,102.47 L112.50,103.98 L113.25,105.45 L114.00,106.87 L114.75,108.26 L115.50,109.61 L116.25,110.94 L117.00,112.23 L117.75,113.50 L118.50,114.76 L119.25,116.00 L120.00,117.23 L120.75,118.45 L121.50,119.67 L122.25,120.89 L123.00,122.12 L123.75,123.34 L124.50,124.57 L125.25,125.81 L126.00,127.04 L126.75,128.27 L127.50,129.50 L128.25,130.73 L129.00,131.96 L129.75,133.19 L130.50,134.41 L131.25,135.62 L132.00,136.84 L132.75,138.04 L133.50,139.24 L134.25,140.44 L135.00,141.62 L135.75,142.80 L136.50,143.96 L137.25,145.12 L138.00,146.27 L138.75,147.40 L139.50,148.52 L140.25,149.63 L141.00,150.73 L141.75,151.81 L142.50,152.88 L143.25,153.93 L144.00,154.98 L144.75,156.01 L145.50,157.02 L146.25,158.03 L147.00,159.02 L147.75,160.00 L148.50,160.97 L149.25,161.92 L150.00,162.87 L150.75,163.80 L151.50,164.72 L152.25,165.62 L153.00,166.52 L153.75,167.40 L154.50,168.28 L155.25,169.14 L156.00,169.99 L156.75,170.83 L157.50,171.65 L158.25,172.47 L159.00,173.28 L159.75,174.07 L160.50,174.86 L161.25,175.63 L162.00,176.39 L162.75,177.15 L163.50,177.89 L164.25,178.62 L165.00,179.35 L165.75,180.06 L166.50,180.76 L167.25,181.46 L168.00,182.14 L168.75,182.82 L169.50,183.49 L170.25,184.15 L171.00,184.80 L171.75,185.44 L172.50,186.07 L173.25,186.69 L174.00,187.31 L174.75,187.91 L175.50,188.51 L176.25,189.10 L177.00,189.69 L177.75,190.26 L178.50,190.83 L179.25,191.39 L180.00,191.95 L180.75,192.49 L181.50,193.03 L182.25,193.57 L183.00,194.09 L183.75,194.61 L184.50,195.13 L185.25,195.63 L186.00,196.13 L186.75,196.63 L187.50,197.12 L188.25,197.60 L189.00,198.08 L189.75,198.55 L190.50,199.02 L191.25,199.48 L192.00,199.93 L192.75,200.38 L193.50,200.83 L194.25,201.27 L195.00,201.70 L195.75,202.13 L196.50,202.55 L197.25,202.97 L198.00,203.39 L198.75,203.80 L199.50,204.20 L200.25,204.61 L201.00,205.00 L201.75,205.39 L202.50,205.78 L203.25,206.16 L204.00,206.54 L204.75,206.92 L205.50,207.29 L206.25,207.65 L207.00,208.01 L207.75,208.37 L208.50,208.72 L209.25,209.07 L210.00,209.42 L210.75,209.76 L211.50,210.10 L212.25,210.44 L213.00,210.77 L213.75,211.10 L214.50,211.42 L215.25,211.74 L216.00,212.06 L216.75,212.38 L217.50,212.69 L218.25,213.00 L219.00,213.31 L219.75,213.61 L220.50,213.91 L221.25,214.21 L222.00,214.50 L222.75,214.79 L223.50,215.08 L224.25,215.37 L225.00,215.65 L225.75,215.93 L226.50,216.21 L227.25,216.49 L228.00,216.76 L228.75,217.03 L229.50,217.30 L230.25,217.57 L231.00,217.84 L231.75,218.10 L232.50,218.36 L233.25,218.62 L234.00,218.87 L234.75,219.13 L235.50,219.38 L236.25,219.63 L237.00,219.88 L237.75,220.13 L238.50,220.37 L239.25,220.62 L240.00,220.86 L240.75,221.10 L241.50,221.34 L242.25,221.58 L243.00,221.81 L243.75,222.05 L244.50,222.28 L245.25,222.51 L246.00,222.74 L246.75,222.97 L247.50,223.20 L248.25,223.43 L249.00,223.65 L249.75,223.88 L250.50,224.10 L251.25,224.32 L252.00,224.55 L252.75,224.77 L253.50,224.99 L254.25,225.21 L255.00,225.43 L255.75,225.65 L256.50,225.86 L257.25,226.08 L258.00,226.30 L258.75,226.51 L259.50,226.73 L260.25,226.94 L261.00,227.16 L261.75,227.37 L262.50,227.58 L263.25,227.79 L264.00,228.00 L264.75,228.21 L265.50,228.42 L266.25,228.63 L267.00,228.83 L267.75,229.04 L268.50,229.25 L269.25,229.45 L270.00,229.65 L270.75,229.85 L271.50,230.06 L272.25,230.26 L273.00,230.45 L273.75,230.65 L274.50,230.85 L275.25,231.05 L276.00,231.24 L276.75,231.43 L277.50,231.63 L278.25,231.82 L279.00,232.01 L279.75,232.20 L280.50,232.38 L281.25,232.57 L282.00,232.76 L282.75,232.94 L283.50,233.12 L284.25,233.30 L285.00,233.48 L285.75,233.66 L286.50,233.84 L287.25,234.02 L288.00,234.19 L288.75,234.36 L289.50,234.53 L290.25,234.71 L291.00,234.87 L291.75,235.04 L292.50,235.21 L293.25,235.37 L294.00,235.53 L294.75,235.70 L295.50,235.86 L296.25,236.01 L297.00,236.17 L297.75,236.33 L298.50,236.48 L299.25,236.63 L300.00,236.78 L300.75,236.93 L301.50,237.08 L302.25,237.22 L303.00,237.36 L303.75,237.50 L304.50,237.64 L305.25,237.78 L306.00,237.92 L306.75,238.05 L307.50,238.19 L308.25,238.32 L309.00,238.45 L309.75,238.57 L310.50,238.70 L311.25,238.82 L312.00,238.95 L312.75,239.07 L313.50,239.19 L314.25,239.31 L315.00,239.42 L315.75,239.54 L316.50,239.65 L317.25,239.76 L318.00,239.88 L318.75,239.99 L319.50,240.09 L320.25,240.20 L321.00,240.31 L321.75,240.41 L322.50,240.52 L323.25,240.62 L324.00,240.72 L324.75,240.82 L325.50,240.92 L326.25,241.02 L327.00,241.12 L327.75,241.21 L328.50,241.31 L329.25,241.40 L330.00,241.50 L330.75,241.59 L331.50,241.68 L332.25,241.77 L333.00,241.86 L333.75,241.95 L334.50,242.04 L335.25,242.13 L336.00,242.22 L336.75,242.31 L337.50,242.39 L338.25,242.48 L339.00,242.56 L339.75,242.65 L340.50,242.73 L341.25,242.82 L342.00,242.90 L342.75,242.98 L343.50,243.07 L344.25,243.15 L345.00,243.23 L345.75,243.31 L346.50,243.40 L347.25,243.48 L348.00,243.56 L348.75,243.64 L349.50,243.72 L350.25,243.80 L351.00,243.88 L351.75,243.96 L352.50,244.04 L353.25,244.12 L354.00,244.20 L354.75,244.28 L355.50,244.36 L356.25,244.45 L357.00,244.53 L357.75,244.61 L358.50,244.69 L359.25,244.77 L360.00,244.85 L360.75,244.93 L361.50,245.02 L362.25,245.10 L363.00,245.18 L363.75,245.27 L364.50,245.35 L365.25,245.43 L366.00,245.52 L366.75,245.60 L367.50,245.69 L368.25,245.78 L369.00,245.86 L369.75,245.95 L370.50,246.04 L371.25,246.13 L372.00,246.22 L372.75,246.31" fill="none" stroke="#0000ff" stroke-width="1.9" stroke-dasharray="5.6 3.3" stroke-linecap="butt" stroke-linejoin="round"/>
<path d="M72.75,23.50 L73.50,23.67 L74.25,24.16 L75.00,24.97 L75.75,26.11 L76.50,27.56 L77.25,29.26 L78.00,31.18 L78.75,33.27 L79.50,35.48 L80.25,37.77 L81.00,40.11 L81.75,42.48 L82.50,44.85 L83.25,47.18 L84.00,49.48 L84.75,51.74 L85.50,53.99 L86.25,56.26 L87.00,58.55 L87.75,60.89 L88.50,63.30 L89.25,65.79 L90.00,68.37 L90.75,71.03 L91.50,73.73 L92.25,76.47 L93.00,79.21 L93.75,81.95 L94.50,84.67 L95.25,87.33 L96.00,89.93 L96.75,92.45 L97.50,94.86 L98.25,97.16 L99.00,99.37 L99.75,101.48 L100.50,103.50 L101.25,105.45 L102.00,107.33 L102.75,109.15 L103.50,110.91 L104.25,112.62 L105.00,114.29 L105.75,115.93 L106.50,117.54 L107.25,119.13 L108.00,120.72 L108.75,122.29 L109.50,123.87 L110.25,125.43 L111.00,126.99 L111.75,128.54 L112.50,130.08 L113.25,131.61 L114.00,133.13 L114.75,134.64 L115.50,136.13 L116.25,137.61 L117.00,139.06 L117.75,140.51 L118.50,141.93 L119.25,143.33 L120.00,144.71 L120.75,146.07 L121.50,147.41 L122.25,148.72 L123.00,150.00 L123.75,151.26 L124.50,152.50 L125.25,153.71 L126.00,154.90 L126.75,156.06 L127.50,157.20 L128.25,158.32 L129.00,159.42 L129.75,160.49 L130.50,161.55 L131.25,162.58 L132.00,163.59 L132.75,164.58 L133.50,165.55 L134.25,166.51 L135.00,167.44 L135.75,168.36 L136.50,169.25 L137.25,170.13 L138.00,171.00 L138.75,171.84 L139.50,172.67 L140.25,173.49 L141.00,174.28 L141.75,175.07 L142.50,175.83 L143.25,176.59 L144.00,177.33 L144.75,178.05 L145.50,178.76 L146.25,179.46 L147.00,180.15 L147.75,180.83 L148.50,181.49 L149.25,182.14 L150.00,182.78 L150.75,183.41 L151.50,184.03 L152.25,184.64 L153.00,185.25 L153.75,185.84 L154.50,186.42 L155.25,187.00 L156.00,187.57 L156.75,188.13 L157.50,188.68 L158.25,189.23 L159.00,189.77 L159.75,190.31 L160.50,190.84 L161.25,191.36 L162.00,191.88 L162.75,192.40 L163.50,192.91 L164.25,193.42 L165.00,193.92 L165.75,194.42 L166.50,194.92 L167.25,195.41 L168.00,195.90 L168.75,196.38 L169.50,196.86 L170.25,197.34 L171.00,197.81 L171.75,198.28 L172.50,198.75 L173.25,199.21 L174.00,199.67 L174.75,200.12 L175.50,200.57 L176.25,201.02 L177.00,201.46 L177.75,201.90 L178.50,202.34 L179.25,202.77 L180.00,203.20 L180.75,203.63 L181.50,204.05 L182.25,204.47 L183.00,204.88 L183.75,205.30 L184.50,205.71 L185.25,206.11 L186.00,206.52 L186.75,206.92 L187.50,207.31 L188.25,207.71 L189.00,208.10 L189.75,208.48 L190.50,208.87 L191.25,209.25 L192.00,209.63 L192.75,210.00 L193.50,210.38 L194.25,210.75 L195.00,211.11 L195.75,211.47 L196.50,211.83 L197.25,212.19 L198.00,212.55 L198.75,212.90 L199.50,213.24 L200.25,213.59 L201.00,213.93 L201.75,214.27 L202.50,214.60 L203.25,214.94 L204.00,215.26 L204.75,215.59 L205.50,215.91 L206.25,216.23 L207.00,216.55 L207.75,216.86 L208.50,217.18 L209.25,217.48 L210.00,217.79 L210.75,218.09 L211.50,218.39 L212.25,218.68 L213.00,218.97 L213.75,219.26 L214.50,219.55 L215.25,219.83 L216.00,220.11 L216.75,220.39 L217.50,220.66 L218.25,220.93 L219.00,221.20 L219.75,221.46 L220.50,221.72 L221.25,221.98 L222.00,222.24 L222.75,222.49 L223.50,222.74 L224.25,222.99 L225.00,223.23 L225.75,223.47 L226.50,223.71 L227.25,223.95 L228.00,224.18 L228.75,224.41 L229.50,224.64 L230.25,224.87 L231.00,225.10 L231.75,225.32 L232.50,225.54 L233.25,225.76 L234.00,225.98 L234.75,226.19 L235.50,226.40 L236.25,226.62 L237.00,226.83 L237.75,227.03 L238.50,227.24 L239.25,227.44 L240.00,227.65 L240.75,227.85 L241.50,228.05 L242.25,228.25 L243.00,228.44 L243.75,228.64 L244.50,228.84 L245.25,229.03 L246.00,229.22 L246.75,229.41 L247.50,229.60 L248.25,229.79 L249.00,229.98 L249.75,230.17 L250.50,230.36 L251.25,230.55 L252.00,230.73 L252.75,230.92 L253.50,231.10 L254.25,231.29 L255.00,231.47 L255.75,231.65 L256.50,231.84 L257.25,232.02 L258.00,232.20 L258.75,232.38 L259.50,232.56 L260.25,232.74 L261.00,232.92 L261.75,233.10 L262.50,233.28 L263.25,233.46 L264.00,233.64 L264.75,233.82 L265.50,234.00 L266.25,234.17 L267.00,234.35 L267.75,234.52 L268.50,234.70 L269.25,234.87 L270.00,235.04 L270.75,235.22 L271.50,235.39 L272.25,235.56 L273.00,235.73 L273.75,235.90 L274.50,236.07 L275.25,236.24 L276.00,236.40 L276.75,236.57 L277.50,236.73 L278.25,236.90 L279.00,237.06 L279.75,237.23 L280.50,237.39 L281.25,237.55 L282.00,237.71 L282.75,237.87 L283.50,238.02 L284.25,238.18 L285.00,238.34 L285.75,238.49 L286.50,238.65 L287.25,238.80 L288.00,238.95 L288.75,239.10 L289.50,239.25 L290.25,239.40 L291.00,239.55 L291.75,239.69 L292.50,239.84 L293.25,239.98 L294.00,240.12 L294.75,240.26 L295.50,240.40 L296.25,240.54 L297.00,240.68 L297.75,240.82 L298.50,240.95 L299.25,241.08 L300.00,241.22 L300.75,241.35 L301.50,241.48 L302.25,241.60 L303.00,241.73 L303.75,241.85 L304.50,241.98 L305.25,242.10 L306.00,242.22 L306.75,242.34 L307.50,242.46 L308.25,242.57 L309.00,242.69 L309.75,242.80 L310.50,242.91 L311.25,243.02 L312.00,243.13 L312.75,243.24 L313.50,243.35 L314.25,243.45 L315.00,243.56 L315.75,243.66 L316.50,243.76 L317.25,243.86 L318.00,243.96 L318.75,244.05 L319.50,244.15 L320.25,244.24 L321.00,244.34 L321.75,244.43 L322.50,244.52 L323.25,244.61 L324.00,244.70 L324.75,244.78 L325.50,244.87 L326.25,244.95 L327.00,245.04 L327.75,245.12 L328.50,245.20 L329.25,245.28 L330.00,245.36 L330.75,245.43 L331.50,245.51 L332.25,245.58 L333.00,245.66 L333.75,245.73 L334.50,245.80 L335.25,245.87 L336.00,245.94 L336.75,246.00 L337.50,246.07 L338.25,246.14 L339.00,246.20 L339.75,246.26 L340.50,246.33 L341.25,246.39 L342.00,246.45 L342.75,246.51 L343.50,246.56 L344.25,246.62 L345.00,246.68 L345.75,246.73 L346.50,246.79 L347.25,246.84 L348.00,246.89 L348.75,246.94 L349.50,246.99 L350.25,247.04 L351.00,247.09 L351.75,247.13 L352.50,247.18 L353.25,247.23 L354.00,247.27 L354.75,247.31 L355.50,247.36 L356.25,247.40 L357.00,247.44 L357.75,247.48 L358.50,247.52 L359.25,247.55 L360.00,247.59 L360.75,247.63 L361.50,247.66 L362.25,247.70 L363.00,247.73 L363.75,247.76 L364.50,247.80 L365.25,247.83 L366.00,247.86 L366.75,247.89 L367.50,247.92 L368.25,247.94 L369.00,247.97 L369.75,248.00 L370.50,248.02 L371.25,248.05 L372.00,248.07 L372.75,248.10" fill="none" stroke="#ff0000" stroke-width="1.9" stroke-dasharray="2.1 2.2 5.75 2.2" stroke-linecap="butt" stroke-linejoin="round"/>
<path d="M72.75,23.50 L73.50,23.67 L74.25,24.16 L75.00,24.97 L75.75,26.10 L76.50,27.52 L77.25,29.21 L78.00,31.13 L78.75,33.23 L79.50,35.48 L80.25,37.84 L81.00,40.25 L81.75,42.68 L82.50,45.06 L83.25,47.36 L84.00,49.56 L84.75,51.68 L85.50,53.77 L86.25,55.84 L87.00,57.95 L87.75,60.12 L88.50,62.38 L89.25,64.77 L90.00,67.29 L90.75,69.93 L91.50,72.66 L92.25,75.44 L93.00,78.26 L93.75,81.09 L94.50,83.90 L95.25,86.65 L96.00,89.34 L96.75,91.92 L97.50,94.37 L98.25,96.69 L99.00,98.89 L99.75,100.99 L100.50,102.98 L101.25,104.88 L102.00,106.70 L102.75,108.46 L103.50,110.15 L104.25,111.80 L105.00,113.41 L105.75,114.99 L106.50,116.55 L107.25,118.11 L108.00,119.67 L108.75,121.24 L109.50,122.82 L110.25,124.41 L111.00,126.01 L111.75,127.60 L112.50,129.20 L113.25,130.78 L114.00,132.37 L114.75,133.94 L115.50,135.50 L116.25,137.04 L117.00,138.57 L117.75,140.07 L118.50,141.54 L119.25,142.99 L120.00,144.41 L120.75,145.79 L121.50,147.14 L122.25,148.45 L123.00,149.72 L123.75,150.94 L124.50,152.13 L125.25,153.28 L126.00,154.39 L126.75,155.47 L127.50,156.52 L128.25,157.53 L129.00,158.52 L129.75,159.47 L130.50,160.40 L131.25,161.30 L132.00,162.18 L132.75,163.03 L133.50,163.86 L134.25,164.66 L135.00,165.45 L135.75,166.22 L136.50,166.98 L137.25,167.72 L138.00,168.44 L138.75,169.15 L139.50,169.85 L140.25,170.54 L141.00,171.22 L141.75,171.89 L142.50,172.55 L143.25,173.20 L144.00,173.85 L144.75,174.48 L145.50,175.11 L146.25,175.73 L147.00,176.34 L147.75,176.94 L148.50,177.53 L149.25,178.12 L150.00,178.70 L150.75,179.27 L151.50,179.83 L152.25,180.38 L153.00,180.93 L153.75,181.47 L154.50,182.01 L155.25,182.53 L156.00,183.05 L156.75,183.56 L157.50,184.07 L158.25,184.57 L159.00,185.06 L159.75,185.55 L160.50,186.03 L161.25,186.50 L162.00,186.97 L162.75,187.43 L163.50,187.89 L164.25,188.34 L165.00,188.78 L165.75,189.22 L166.50,189.65 L167.25,190.08 L168.00,190.51 L168.75,190.92 L169.50,191.34 L170.25,191.75 L171.00,192.15 L171.75,192.55 L172.50,192.94 L173.25,193.33 L174.00,193.72 L174.75,194.10 L175.50,194.47 L176.25,194.85 L177.00,195.22 L177.75,195.58 L178.50,195.94 L179.25,196.30 L180.00,196.65 L180.75,197.00 L181.50,197.35 L182.25,197.70 L183.00,198.04 L183.75,198.37 L184.50,198.71 L185.25,199.04 L186.00,199.37 L186.75,199.70 L187.50,200.02 L188.25,200.34 L189.00,200.66 L189.75,200.98 L190.50,201.29 L191.25,201.60 L192.00,201.91 L192.75,202.22 L193.50,202.53 L194.25,202.83 L195.00,203.13 L195.75,203.43 L196.50,203.72 L197.25,204.01 L198.00,204.30 L198.75,204.59 L199.50,204.88 L200.25,205.16 L201.00,205.44 L201.75,205.72 L202.50,205.99 L203.25,206.27 L204.00,206.54 L204.75,206.81 L205.50,207.07 L206.25,207.34 L207.00,207.60 L207.75,207.86 L208.50,208.11 L209.25,208.36 L210.00,208.62 L210.75,208.86 L211.50,209.11 L212.25,209.35 L213.00,209.60 L213.75,209.83 L214.50,210.07 L215.25,210.30 L216.00,210.53 L216.75,210.76 L217.50,210.99 L218.25,211.21 L219.00,211.43 L219.75,211.65 L220.50,211.87 L221.25,212.08 L222.00,212.29 L222.75,212.50 L223.50,212.71 L224.25,212.91 L225.00,213.11 L225.75,213.31 L226.50,213.51 L227.25,213.71 L228.00,213.90 L228.75,214.09 L229.50,214.28 L230.25,214.47 L231.00,214.65 L231.75,214.83 L232.50,215.02 L233.25,215.19 L234.00,215.37 L234.75,215.55 L235.50,215.72 L236.25,215.89 L237.00,216.06 L237.75,216.23 L238.50,216.40 L239.25,216.56 L240.00,216.73 L240.75,216.89 L241.50,217.05 L242.25,217.21 L243.00,217.37 L243.75,217.52 L244.50,217.68 L245.25,217.83 L246.00,217.99 L246.75,218.14 L247.50,218.29 L248.25,218.43 L249.00,218.58 L249.75,218.73 L250.50,218.87 L251.25,219.02 L252.00,219.16 L252.75,219.30 L253.50,219.44 L254.25,219.58 L255.00,219.72 L255.75,219.86 L256.50,219.99 L257.25,220.13 L258.00,220.27 L258.75,220.40 L259.50,220.53 L260.25,220.67 L261.00,220.80 L261.75,220.93 L262.50,221.06 L263.25,221.19 L264.00,221.32 L264.75,221.45 L265.50,221.58 L266.25,221.70 L267.00,221.83 L267.75,221.96 L268.50,222.08 L269.25,222.21 L270.00,222.33 L270.75,222.45 L271.50,222.58 L272.25,222.70 L273.00,222.82 L273.75,222.94 L274.50,223.06 L275.25,223.18 L276.00,223.30 L276.75,223.42 L277.50,223.54 L278.25,223.66 L279.00,223.78 L279.75,223.89 L280.50,224.01 L281.25,224.13 L282.00,224.24 L282.75,224.36 L283.50,224.48 L284.25,224.59 L285.00,224.71 L285.75,224.82 L286.50,224.94 L287.25,225.05 L288.00,225.17 L288.75,225.28 L289.50,225.39 L290.25,225.51 L291.00,225.62 L291.75,225.73 L292.50,225.85 L293.25,225.96 L294.00,226.07 L294.75,226.19 L295.50,226.30 L296.25,226.41 L297.00,226.53 L297.75,226.64 L298.50,226.75 L299.25,226.86 L300.00,226.98 L300.75,227.09 L301.50,227.20 L302.25,227.32 L303.00,227.43 L303.75,227.54 L304.50,227.66 L305.25,227.77 L306.00,227.88 L306.75,228.00 L307.50,228.11 L308.25,228.23 L309.00,228.34 L309.75,228.46 L310.50,228.57 L311.25,228.69 L312.00,228.80 L312.75,228.92 L313.50,229.03 L314.25,229.15 L315.00,229.26 L315.75,229.38 L316.50,229.49 L317.25,229.61 L318.00,229.73 L318.75,229.84 L319.50,229.96 L320.25,230.08 L321.00,230.19 L321.75,230.31 L322.50,230.43 L323.25,230.55 L324.00,230.66 L324.75,230.78 L325.50,230.90 L326.25,231.02 L327.00,231.14 L327.75,231.26 L328.50,231.38 L329.25,231.50 L330.00,231.61 L330.75,231.73 L331.50,231.85 L332.25,231.97 L333.00,232.09 L333.75,232.21 L334.50,232.34 L335.25,232.46 L336.00,232.58 L336.75,232.70 L337.50,232.82 L338.25,232.94 L339.00,233.06 L339.75,233.19 L340.50,233.31 L341.25,233.43 L342.00,233.55 L342.75,233.68 L343.50,233.80 L344.25,233.92 L345.00,234.05 L345.75,234.17 L346.50,234.29 L347.25,234.42 L348.00,234.54 L348.75,234.67 L349.50,234.79 L350.25,234.92 L351.00,235.04 L351.75,235.17 L352.50,235.29 L353.25,235.42 L354.00,235.55 L354.75,235.67 L355.50,235.80 L356.25,235.93 L357.00,236.05 L357.75,236.18 L358.50,236.31 L359.25,236.44 L360.00,236.57 L360.75,236.69 L361.50,236.82 L362.25,236.95 L363.00,237.08 L363.75,237.21 L364.50,237.34 L365.25,237.47 L366.00,237.60 L366.75,237.73 L367.50,237.86 L368.25,237.99 L369.00,238.12 L369.75,238.26 L370.50,238.39 L371.25,238.52 L372.00,238.65 L372.75,238.78" fill="none" stroke="#ff0000" stroke-width="1.9" stroke-dasharray="2.1 2.31" stroke-dashoffset="2.2" stroke-linecap="butt" stroke-linejoin="round"/>
<path d="M72.75,23.50 L73.50,23.58 L74.25,23.81 L75.00,24.17 L75.75,24.67 L76.50,25.32 L77.25,26.13 L78.00,27.11 L78.75,28.27 L79.50,29.65 L80.25,31.21 L81.00,32.93 L81.75,34.78 L82.50,36.72 L83.25,38.72 L84.00,40.76 L84.75,42.83 L85.50,44.95 L86.25,47.11 L87.00,49.31 L87.75,51.55 L88.50,53.84 L89.25,56.17 L90.00,58.54 L90.75,60.95 L91.50,63.38 L92.25,65.83 L93.00,68.28 L93.75,70.73 L94.50,73.18 L95.25,75.60 L96.00,78.00 L96.75,80.36 L97.50,82.68 L98.25,84.95 L99.00,87.17 L99.75,89.35 L100.50,91.49 L101.25,93.59 L102.00,95.65 L102.75,97.67 L103.50,99.66 L104.25,101.61 L105.00,103.52 L105.75,105.41 L106.50,107.26 L107.25,109.08 L108.00,110.88 L108.75,112.65 L109.50,114.40 L110.25,116.12 L111.00,117.81 L111.75,119.48 L112.50,121.12 L113.25,122.73 L114.00,124.32 L114.75,125.89 L115.50,127.43 L116.25,128.94 L117.00,130.43 L117.75,131.90 L118.50,133.33 L119.25,134.75 L120.00,136.14 L120.75,137.50 L121.50,138.84 L122.25,140.16 L123.00,141.45 L123.75,142.71 L124.50,143.95 L125.25,145.17 L126.00,146.37 L126.75,147.54 L127.50,148.69 L128.25,149.82 L129.00,150.93 L129.75,152.02 L130.50,153.08 L131.25,154.13 L132.00,155.16 L132.75,156.16 L133.50,157.15 L134.25,158.12 L135.00,159.07 L135.75,160.00 L136.50,160.92 L137.25,161.82 L138.00,162.70 L138.75,163.56 L139.50,164.41 L140.25,165.25 L141.00,166.06 L141.75,166.87 L142.50,167.66 L143.25,168.43 L144.00,169.19 L144.75,169.94 L145.50,170.67 L146.25,171.39 L147.00,172.10 L147.75,172.79 L148.50,173.48 L149.25,174.15 L150.00,174.81 L150.75,175.46 L151.50,176.09 L152.25,176.72 L153.00,177.34 L153.75,177.94 L154.50,178.54 L155.25,179.13 L156.00,179.71 L156.75,180.28 L157.50,180.84 L158.25,181.39 L159.00,181.94 L159.75,182.48 L160.50,183.01 L161.25,183.53 L162.00,184.05 L162.75,184.56 L163.50,185.06 L164.25,185.56 L165.00,186.05 L165.75,186.54 L166.50,187.02 L167.25,187.50 L168.00,187.97 L168.75,188.43 L169.50,188.89 L170.25,189.35 L171.00,189.80 L171.75,190.25 L172.50,190.69 L173.25,191.13 L174.00,191.56 L174.75,191.99 L175.50,192.41 L176.25,192.84 L177.00,193.25 L177.75,193.67 L178.50,194.08 L179.25,194.49 L180.00,194.89 L180.75,195.30 L181.50,195.69 L182.25,196.09 L183.00,196.49 L183.75,196.88 L184.50,197.27 L185.25,197.65 L186.00,198.04 L186.75,198.42 L187.50,198.81 L188.25,199.19 L189.00,199.57 L189.75,199.94 L190.50,200.32 L191.25,200.69 L192.00,201.07 L192.75,201.44 L193.50,201.81 L194.25,202.18 L195.00,202.54 L195.75,202.91 L196.50,203.27 L197.25,203.63 L198.00,203.99 L198.75,204.35 L199.50,204.71 L200.25,205.06 L201.00,205.42 L201.75,205.77 L202.50,206.12 L203.25,206.46 L204.00,206.81 L204.75,207.15 L205.50,207.49 L206.25,207.83 L207.00,208.17 L207.75,208.50 L208.50,208.83 L209.25,209.16 L210.00,209.49 L210.75,209.82 L211.50,210.14 L212.25,210.46 L213.00,210.78 L213.75,211.10 L214.50,211.41 L215.25,211.72 L216.00,212.03 L216.75,212.34 L217.50,212.64 L218.25,212.95 L219.00,213.25 L219.75,213.54 L220.50,213.84 L221.25,214.13 L222.00,214.42 L222.75,214.71 L223.50,214.99 L224.25,215.28 L225.00,215.56 L225.75,215.84 L226.50,216.11 L227.25,216.39 L228.00,216.66 L228.75,216.93 L229.50,217.20 L230.25,217.47 L231.00,217.73 L231.75,218.00 L232.50,218.26 L233.25,218.52 L234.00,218.78 L234.75,219.04 L235.50,219.29 L236.25,219.55 L237.00,219.80 L237.75,220.05 L238.50,220.30 L239.25,220.55 L240.00,220.80 L240.75,221.04 L241.50,221.29 L242.25,221.53 L243.00,221.77 L243.75,222.02 L244.50,222.26 L245.25,222.50 L246.00,222.74 L246.75,222.98 L247.50,223.21 L248.25,223.45 L249.00,223.69 L249.75,223.92 L250.50,224.16 L251.25,224.39 L252.00,224.63 L252.75,224.86 L253.50,225.09 L254.25,225.33 L255.00,225.56 L255.75,225.79 L256.50,226.02 L257.25,226.25 L258.00,226.48 L258.75,226.71 L259.50,226.94 L260.25,227.17 L261.00,227.40 L261.75,227.63 L262.50,227.86 L263.25,228.09 L264.00,228.32 L264.75,228.54 L265.50,228.77 L266.25,228.99 L267.00,229.22 L267.75,229.44 L268.50,229.67 L269.25,229.89 L270.00,230.11 L270.75,230.33 L271.50,230.55 L272.25,230.77 L273.00,230.99 L273.75,231.21 L274.50,231.42 L275.25,231.64 L276.00,231.86 L276.75,232.07 L277.50,232.28 L278.25,232.49 L279.00,232.71 L279.75,232.92 L280.50,233.12 L281.25,233.33 L282.00,233.54 L282.75,233.74 L283.50,233.95 L284.25,234.15 L285.00,234.35 L285.75,234.55 L286.50,234.75 L287.25,234.95 L288.00,235.15 L288.75,235.34 L289.50,235.53 L290.25,235.73 L291.00,235.92 L291.75,236.11 L292.50,236.29 L293.25,236.48 L294.00,236.66 L294.75,236.85 L295.50,237.03 L296.25,237.21 L297.00,237.39 L297.75,237.56 L298.50,237.74 L299.25,237.91 L300.00,238.08 L300.75,238.25 L301.50,238.42 L302.25,238.59 L303.00,238.75 L303.75,238.91 L304.50,239.07 L305.25,239.23 L306.00,239.39 L306.75,239.54 L307.50,239.70 L308.25,239.85 L309.00,240.00 L309.75,240.14 L310.50,240.29 L311.25,240.43 L312.00,240.58 L312.75,240.72 L313.50,240.85 L314.25,240.99 L315.00,241.12 L315.75,241.26 L316.50,241.39 L317.25,241.52 L318.00,241.65 L318.75,241.77 L319.50,241.90 L320.25,242.02 L321.00,242.14 L321.75,242.26 L322.50,242.38 L323.25,242.50 L324.00,242.61 L324.75,242.72 L325.50,242.84 L326.25,242.95 L327.00,243.06 L327.75,243.16 L328.50,243.27 L329.25,243.37 L330.00,243.48 L330.75,243.58 L331.50,243.68 L332.25,243.78 L333.00,243.88 L333.75,243.97 L334.50,244.07 L335.25,244.16 L336.00,244.25 L336.75,244.34 L337.50,244.43 L338.25,244.52 L339.00,244.61 L339.75,244.70 L340.50,244.78 L341.25,244.87 L342.00,244.95 L342.75,245.03 L343.50,245.11 L344.25,245.19 L345.00,245.27 L345.75,245.34 L346.50,245.42 L347.25,245.49 L348.00,245.57 L348.75,245.64 L349.50,245.71 L350.25,245.78 L351.00,245.85 L351.75,245.92 L352.50,245.99 L353.25,246.05 L354.00,246.12 L354.75,246.18 L355.50,246.25 L356.25,246.31 L357.00,246.37 L357.75,246.43 L358.50,246.50 L359.25,246.55 L360.00,246.61 L360.75,246.67 L361.50,246.73 L362.25,246.79 L363.00,246.84 L363.75,246.90 L364.50,246.95 L365.25,247.00 L366.00,247.06 L366.75,247.11 L367.50,247.16 L368.25,247.21 L369.00,247.26 L369.75,247.31 L370.50,247.36 L371.25,247.41 L372.00,247.46 L372.75,247.51" fill="none" stroke="#00ff00" stroke-width="1.9" stroke-dasharray="8.8 2.2" stroke-linecap="butt" stroke-linejoin="round"/>
<circle cx="72.85" cy="23.5" r="0.95" fill="#00ff00"/>
<rect x="60.8" y="14.5" width="323.7" height="243.5" fill="none" stroke="#000" stroke-width="0.65"/>
<line x1="54.2" y1="23.47" x2="60.8" y2="23.47" stroke="#000" stroke-width="0.65"/>
<text x="47.1" y="27.37" font-size="11.4" text-anchor="end" textLength="16.0" lengthAdjust="spacingAndGlyphs">500</text>
<line x1="54.2" y1="56.73" x2="60.8" y2="56.73" stroke="#000" stroke-width="0.65"/>
<text x="47.1" y="60.63" font-size="11.4" text-anchor="end" textLength="16.0" lengthAdjust="spacingAndGlyphs">200</text>
<line x1="54.2" y1="81.90" x2="60.8" y2="81.90" stroke="#000" stroke-width="0.65"/>
<text x="47.1" y="85.80" font-size="11.4" text-anchor="end" textLength="16.0" lengthAdjust="spacingAndGlyphs">100</text>
<line x1="54.2" y1="107.07" x2="60.8" y2="107.07" stroke="#000" stroke-width="0.65"/>
<text x="47.1" y="110.97" font-size="11.4" text-anchor="end" textLength="10.7" lengthAdjust="spacingAndGlyphs">50</text>
<line x1="54.2" y1="140.33" x2="60.8" y2="140.33" stroke="#000" stroke-width="0.65"/>
<text x="47.1" y="144.23" font-size="11.4" text-anchor="end" textLength="10.7" lengthAdjust="spacingAndGlyphs">20</text>
<line x1="54.2" y1="165.50" x2="60.8" y2="165.50" stroke="#000" stroke-width="0.65"/>
<text x="47.1" y="169.40" font-size="11.4" text-anchor="end" textLength="10.7" lengthAdjust="spacingAndGlyphs">10</text>
<line x1="54.2" y1="190.67" x2="60.8" y2="190.67" stroke="#000" stroke-width="0.65"/>
<text x="47.1" y="194.57" font-size="11.4" text-anchor="end" textLength="5.3" lengthAdjust="spacingAndGlyphs">5</text>
<line x1="54.2" y1="223.93" x2="60.8" y2="223.93" stroke="#000" stroke-width="0.65"/>
<text x="47.1" y="227.83" font-size="11.4" text-anchor="end" textLength="5.3" lengthAdjust="spacingAndGlyphs">2</text>
<line x1="54.2" y1="249.10" x2="60.8" y2="249.10" stroke="#000" stroke-width="0.65"/>
<text x="47.1" y="253.00" font-size="11.4" text-anchor="end" textLength="5.3" lengthAdjust="spacingAndGlyphs">1</text>
<line x1="72.75" y1="258" x2="72.75" y2="264.5" stroke="#000" stroke-width="0.65"/>
<text x="72.55" y="282.1" font-size="11.4" text-anchor="middle" textLength="5.35" lengthAdjust="spacingAndGlyphs">0</text>
<line x1="132.75" y1="258" x2="132.75" y2="264.5" stroke="#000" stroke-width="0.65"/>
<text x="132.55" y="282.1" font-size="11.4" text-anchor="middle" textLength="5.35" lengthAdjust="spacingAndGlyphs">1</text>
<line x1="192.75" y1="258" x2="192.75" y2="264.5" stroke="#000" stroke-width="0.65"/>
<text x="192.55" y="282.1" font-size="11.4" text-anchor="middle" textLength="5.35" lengthAdjust="spacingAndGlyphs">2</text>
<line x1="252.75" y1="258" x2="252.75" y2="264.5" stroke="#000" stroke-width="0.65"/>
<text x="252.55" y="282.1" font-size="11.4" text-anchor="middle" textLength="5.35" lengthAdjust="spacingAndGlyphs">3</text>
<line x1="312.75" y1="258" x2="312.75" y2="264.5" stroke="#000" stroke-width="0.65"/>
<text x="312.55" y="282.1" font-size="11.4" text-anchor="middle" textLength="5.35" lengthAdjust="spacingAndGlyphs">4</text>
<line x1="372.75" y1="258" x2="372.75" y2="264.5" stroke="#000" stroke-width="0.65"/>
<text x="372.55" y="282.1" font-size="11.4" text-anchor="middle" textLength="5.35" lengthAdjust="spacingAndGlyphs">5</text>
<text transform="translate(19.2,172.7) rotate(-90)" font-size="10.4" textLength="72.7" lengthAdjust="spacingAndGlyphs">zero-state ARL</text>
<text x="222.6" y="309.3" font-size="12.5" font-style="italic" text-anchor="middle" fill="#3a3a3a" style="fill:#3a3a3a">δ</text>
<rect x="192.6" y="14.8" width="191.6" height="78.2" fill="#fff" stroke="none"/>
<path d="M192.6,14.5 V93 H384.5" fill="none" stroke="#000" stroke-width="0.65"/>
<path d="M202,27.9 L243,27.9" fill="none" stroke="#000" stroke-width="1.6" stroke-linecap="butt"/>
<path d="M202,41.2 L243,41.2" fill="none" stroke="#0000ff" stroke-width="1.6" stroke-dasharray="5.6 3.3" stroke-linecap="butt"/>
<path d="M202,54.4 L243,54.4" fill="none" stroke="#ff0000" stroke-width="1.6" stroke-dasharray="2.1 2.2 5.75 2.2" stroke-linecap="butt"/>
<path d="M202,67.6 L243,67.6" fill="none" stroke="#ff0000" stroke-width="1.6" stroke-dasharray="2.1 2.31" stroke-linecap="butt"/>
<path d="M202,80.8 L243,80.8" fill="none" stroke="#00ff00" stroke-width="1.6" stroke-dasharray="8.8 2.2" stroke-linecap="butt"/>
<text x="252.7" y="31.8" font-size="11.6" font-style="italic" textLength="7.6" lengthAdjust="spacingAndGlyphs">R</text><text x="260.4" y="33.8" font-size="8" textLength="4.2" lengthAdjust="spacingAndGlyphs">4</text>
<text x="252.7" y="44.9" font-size="11.6" font-style="italic" textLength="7.6" lengthAdjust="spacingAndGlyphs">R</text><text x="260.4" y="46.9" font-size="8" textLength="4.2" lengthAdjust="spacingAndGlyphs">4</text>
<text x="268.2" y="44.7" font-size="10.4" textLength="5.6" lengthAdjust="spacingAndGlyphs">+</text>
<text x="277.3" y="44.7" font-size="10.4" textLength="101.0" lengthAdjust="spacingAndGlyphs">Shewhart, optimized</text>
<text x="252.3" y="58.0" font-size="10.4" textLength="111.3" lengthAdjust="spacingAndGlyphs">EWMA, variable limits</text>
<text x="252.3" y="71.2" font-size="10.4" textLength="97.3" lengthAdjust="spacingAndGlyphs">EWMA, fixed limits</text>
<text x="252.3" y="84.4" font-size="10.4" textLength="108.5" lengthAdjust="spacingAndGlyphs">CSEWMA, fixed limits</text>
</svg></body></html>
